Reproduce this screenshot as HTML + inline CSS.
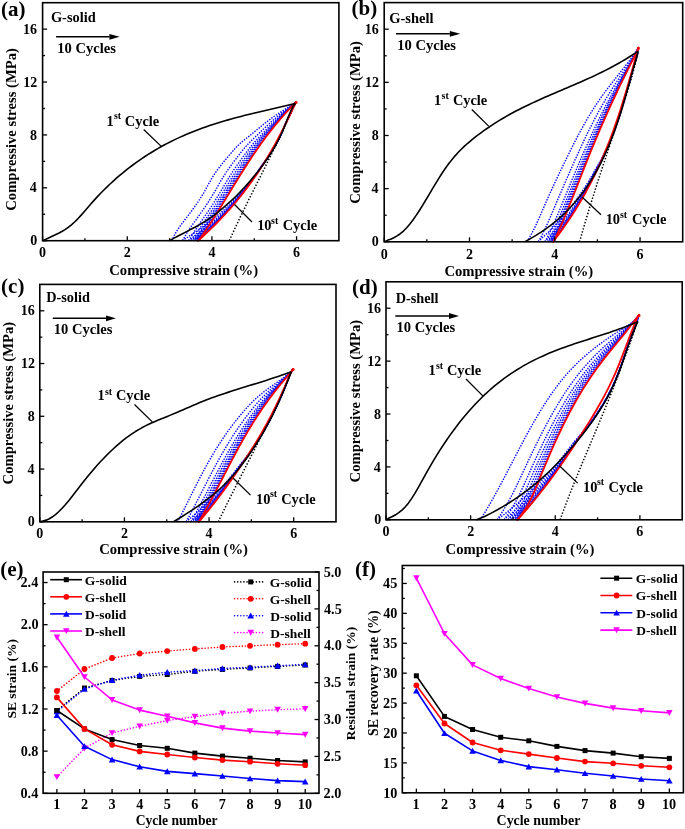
<!DOCTYPE html>
<html><head><meta charset="utf-8"><style>
html,body{margin:0;padding:0;background:#fff;width:685px;height:829px;overflow:hidden}
text{font-family:'Liberation Serif',serif;font-weight:bold;font-kerning:none}
</style></head><body>
<svg width="685" height="829" viewBox="0 0 685 829" style="position:absolute;left:0;top:0;will-change:transform">
<g style="font-family:'Liberation Serif',serif;font-weight:bold;font-kerning:none">
<path d="M172,240.7 L173.35,237.26 L175.11,233.81 L177.19,230.37 L179.52,226.93 L182.04,223.49 L184.66,220.04 L187.31,216.6 L189.93,213.16 L192.5,209.72 L195,206.27 L197.41,202.83 L199.71,199.39 L201.89,195.95 L203.93,192.5 L205.85,189.06 L207.72,185.62 L209.61,182.18 L211.57,178.73 L213.68,175.29 L215.99,171.85 L218.51,168.41 L221.19,164.97 L223.99,161.52 L226.85,158.08 L229.73,154.64 L232.66,151.19 L235.77,147.75 L239.23,144.31 L243.19,140.87 L247.49,137.42 L251.78,133.98 L255.97,130.54 L260.15,127.1 L264.42,123.66 L268.87,120.21 L273.6,116.77 L278.7,113.33 L284.11,109.88 L289.54,106.44 L294.62,103 L296,102" fill="none" stroke="#0000ff" stroke-width="1.4" stroke-dasharray="1.4 1.3" stroke-linejoin="round" />
<path d="M182.52,240.7 L184.44,237.26 L186.43,233.81 L188.61,230.37 L190.93,226.93 L193.34,223.49 L195.8,220.04 L198.27,216.6 L200.71,213.16 L203.11,209.72 L205.46,206.27 L207.75,202.83 L209.97,199.39 L212.12,195.95 L214.18,192.5 L216.17,189.06 L218.13,185.62 L220.11,182.18 L222.13,178.73 L224.25,175.29 L226.5,171.85 L228.88,168.41 L231.37,164.97 L233.94,161.52 L236.56,158.08 L239.22,154.64 L241.91,151.19 L244.73,147.75 L247.79,144.31 L251.16,140.87 L254.76,137.42 L258.37,133.98 L261.95,130.54 L265.56,127.1 L269.24,123.66 L273.07,120.21 L277.09,116.77 L281.37,113.33 L285.87,109.88 L290.42,106.44 L294.79,103 L296,102" fill="none" stroke="#0000ff" stroke-width="1.4" stroke-dasharray="1.4 1.3" stroke-linejoin="round" />
<path d="M188.57,240.7 L190.81,237.26 L192.94,233.81 L195.18,230.37 L197.49,226.93 L199.84,223.49 L202.21,220.04 L204.57,216.6 L206.91,213.16 L209.21,209.72 L211.47,206.27 L213.7,202.83 L215.87,199.39 L218,195.95 L220.07,192.5 L222.11,189.06 L224.12,185.62 L226.14,182.18 L228.2,178.73 L230.33,175.29 L232.54,171.85 L234.84,168.41 L237.22,164.97 L239.66,161.52 L242.15,158.08 L244.67,154.64 L247.23,151.19 L249.88,147.75 L252.7,144.31 L255.74,140.87 L258.93,137.42 L262.16,133.98 L265.4,130.54 L268.67,127.1 L272.02,123.66 L275.48,120.21 L279.1,116.77 L282.9,113.33 L286.88,109.88 L290.92,106.44 L294.88,103 L296,102" fill="none" stroke="#0000ff" stroke-width="1.4" stroke-dasharray="1.4 1.3" stroke-linejoin="round" />
<path d="M191.46,240.7 L193.86,237.26 L196.06,233.81 L198.32,230.37 L200.62,226.93 L202.95,223.49 L205.27,220.04 L207.58,216.6 L209.87,213.16 L212.13,209.72 L214.35,206.27 L216.54,202.83 L218.7,199.39 L220.81,195.95 L222.89,192.5 L224.94,189.06 L226.98,185.62 L229.03,182.18 L231.11,178.73 L233.23,175.29 L235.43,171.85 L237.69,168.41 L240.02,164.97 L242.4,161.52 L244.82,158.08 L247.27,154.64 L249.77,151.19 L252.35,147.75 L255.05,144.31 L257.93,140.87 L260.93,137.42 L263.98,133.98 L267.04,130.54 L270.16,127.1 L273.35,123.66 L276.64,120.21 L280.06,116.77 L283.64,113.33 L287.36,109.88 L291.16,106.44 L294.93,103 L296,102" fill="none" stroke="#0000ff" stroke-width="1.4" stroke-dasharray="1.4 1.3" stroke-linejoin="round" />
<path d="M193.57,240.7 L196.07,237.26 L198.32,233.81 L200.61,230.37 L202.91,226.93 L205.21,223.49 L207.5,220.04 L209.78,216.6 L212.03,213.16 L214.25,209.72 L216.44,206.27 L218.61,202.83 L220.75,199.39 L222.86,195.95 L224.94,192.5 L227.01,189.06 L229.06,185.62 L231.13,182.18 L233.22,178.73 L235.35,175.29 L237.53,171.85 L239.77,168.41 L242.06,164.97 L244.39,161.52 L246.76,158.08 L249.17,154.64 L251.62,151.19 L254.14,147.75 L256.76,144.31 L259.52,140.87 L262.38,137.42 L265.29,133.98 L268.24,130.54 L271.24,127.1 L274.31,123.66 L277.48,120.21 L280.76,116.77 L284.17,113.33 L287.72,109.88 L291.34,106.44 L294.96,103 L296,102" fill="none" stroke="#0000ff" stroke-width="1.4" stroke-dasharray="1.4 1.3" stroke-linejoin="round" />
<path d="M195.14,240.7 L197.74,237.26 L200.02,233.81 L202.32,230.37 L204.62,226.93 L206.9,223.49 L209.17,220.04 L211.42,216.6 L213.64,213.16 L215.84,209.72 L218.01,206.27 L220.16,202.83 L222.29,199.39 L224.39,195.95 L226.48,192.5 L228.55,189.06 L230.63,185.62 L232.71,182.18 L234.8,178.73 L236.93,175.29 L239.11,171.85 L241.32,168.41 L243.58,164.97 L245.88,161.52 L248.22,158.08 L250.59,154.64 L253.01,151.19 L255.49,147.75 L258.05,144.31 L260.72,140.87 L263.47,137.42 L266.28,133.98 L269.14,130.54 L272.05,127.1 L275.03,123.66 L278.11,120.21 L281.28,116.77 L284.58,113.33 L287.98,109.88 L291.47,106.44 L294.99,103 L296,102" fill="none" stroke="#0000ff" stroke-width="1.4" stroke-dasharray="1.4 1.3" stroke-linejoin="round" />
<path d="M196.46,240.7 L199.12,237.26 L201.43,233.81 L203.75,230.37 L206.04,226.93 L208.32,223.49 L210.57,220.04 L212.79,216.6 L214.99,213.16 L217.17,209.72 L219.32,206.27 L221.45,202.83 L223.57,199.39 L225.67,195.95 L227.76,192.5 L229.84,189.06 L231.93,185.62 L234.02,182.18 L236.12,178.73 L238.26,175.29 L240.42,171.85 L242.62,168.41 L244.85,164.97 L247.13,161.52 L249.43,158.08 L251.78,154.64 L254.16,151.19 L256.61,147.75 L259.12,144.31 L261.71,140.87 L264.38,137.42 L267.11,133.98 L269.89,130.54 L272.73,127.1 L275.64,123.66 L278.63,120.21 L281.72,116.77 L284.91,113.33 L288.2,109.88 L291.58,106.44 L295.01,103 L296,102" fill="none" stroke="#0000ff" stroke-width="1.4" stroke-dasharray="1.4 1.3" stroke-linejoin="round" />
<path d="M197.51,240.7 L200.23,237.26 L202.57,233.81 L204.89,230.37 L207.18,226.93 L209.45,223.49 L211.68,220.04 L213.89,216.6 L216.07,213.16 L218.23,209.72 L220.37,206.27 L222.49,202.83 L224.6,199.39 L226.7,195.95 L228.79,192.5 L230.88,189.06 L232.97,185.62 L235.07,182.18 L237.18,178.73 L239.31,175.29 L241.47,171.85 L243.66,168.41 L245.87,164.97 L248.12,161.52 L250.41,158.08 L252.73,154.64 L255.09,151.19 L257.5,147.75 L259.97,144.31 L262.51,140.87 L265.11,137.42 L267.77,133.98 L270.48,130.54 L273.27,127.1 L276.12,123.66 L279.05,120.21 L282.07,116.77 L285.18,113.33 L288.38,109.88 L291.66,106.44 L295.02,103 L296,102" fill="none" stroke="#0000ff" stroke-width="1.4" stroke-dasharray="1.4 1.3" stroke-linejoin="round" />
<path d="M182.32,240.7 L187.58,237.26 L192.88,233.81 L197.93,230.37 L202.76,226.93 L207.38,223.49 L211.79,220.04 L216.02,216.6 L220.06,213.16 L223.93,209.72 L227.63,206.27 L231.18,202.83 L234.58,199.39 L237.84,195.95 L240.97,192.5 L243.98,189.06 L246.87,185.62 L249.65,182.18 L252.33,178.73 L254.91,175.29 L257.4,171.85 L259.8,168.41 L262.27,164.97 L264.84,161.52 L267.29,158.08 L269.61,154.64 L271.82,151.19 L273.91,147.75 L275.89,144.31 L277.75,140.87 L279.5,137.42 L281.14,133.98 L282.67,130.54 L284.09,127.1 L285.52,123.66 L287.21,120.21 L288.88,116.77 L290.52,113.33 L292.14,109.88 L293.72,106.44 L295.49,103 L296,102" fill="none" stroke="#0000ff" stroke-width="1.4" stroke-dasharray="1.4 1.3" stroke-linejoin="round" />
<path d="M188.37,240.7 L192.98,237.26 L197.68,233.81 L202.19,230.37 L206.53,226.93 L210.7,223.49 L214.71,220.04 L218.56,216.6 L222.27,213.16 L225.85,209.72 L229.29,206.27 L232.6,202.83 L235.79,199.39 L238.87,195.95 L241.84,192.5 L244.71,189.06 L247.48,185.62 L250.15,182.18 L252.74,178.73 L255.24,175.29 L257.67,171.85 L260.01,168.41 L262.44,164.97 L264.97,161.52 L267.39,158.08 L269.69,154.64 L271.87,151.19 L273.95,147.75 L275.91,144.31 L277.77,140.87 L279.51,137.42 L281.15,133.98 L282.68,130.54 L284.09,127.1 L285.52,123.66 L287.21,120.21 L288.88,116.77 L290.52,113.33 L292.14,109.88 L293.72,106.44 L295.49,103 L296,102" fill="none" stroke="#0000ff" stroke-width="1.4" stroke-dasharray="1.4 1.3" stroke-linejoin="round" />
<path d="M191.26,240.7 L195.56,237.26 L199.98,233.81 L204.23,230.37 L208.33,226.93 L212.28,223.49 L216.1,220.04 L219.78,216.6 L223.33,213.16 L226.77,209.72 L230.08,206.27 L233.28,202.83 L236.37,199.39 L239.37,195.95 L242.26,192.5 L245.06,189.06 L247.77,185.62 L250.39,182.18 L252.94,178.73 L255.4,175.29 L257.8,171.85 L260.11,168.41 L262.52,164.97 L265.03,161.52 L267.43,158.08 L269.72,154.64 L271.9,151.19 L273.97,147.75 L275.93,144.31 L277.78,140.87 L279.52,137.42 L281.15,133.98 L282.68,130.54 L284.09,127.1 L285.52,123.66 L287.21,120.21 L288.88,116.77 L290.52,113.33 L292.14,109.88 L293.72,106.44 L295.49,103 L296,102" fill="none" stroke="#0000ff" stroke-width="1.4" stroke-dasharray="1.4 1.3" stroke-linejoin="round" />
<path d="M193.37,240.7 L197.44,237.26 L201.65,233.81 L205.71,230.37 L209.64,226.93 L213.44,223.49 L217.11,220.04 L220.67,216.6 L224.1,213.16 L227.43,209.72 L230.66,206.27 L233.78,202.83 L236.8,199.39 L239.72,195.95 L242.56,192.5 L245.31,189.06 L247.98,185.62 L250.57,182.18 L253.08,178.73 L255.52,175.29 L257.89,171.85 L260.18,168.41 L262.57,164.97 L265.07,161.52 L267.47,158.08 L269.75,154.64 L271.92,151.19 L273.98,147.75 L275.94,144.31 L277.78,140.87 L279.52,137.42 L281.15,133.98 L282.68,130.54 L284.09,127.1 L285.52,123.66 L287.21,120.21 L288.88,116.77 L290.52,113.33 L292.14,109.88 L293.72,106.44 L295.49,103 L296,102" fill="none" stroke="#0000ff" stroke-width="1.4" stroke-dasharray="1.4 1.3" stroke-linejoin="round" />
<path d="M194.94,240.7 L198.85,237.26 L202.9,233.81 L206.82,230.37 L210.62,226.93 L214.3,223.49 L217.87,220.04 L221.33,216.6 L224.68,213.16 L227.93,209.72 L231.09,206.27 L234.15,202.83 L237.11,199.39 L239.99,195.95 L242.79,192.5 L245.5,189.06 L248.14,185.62 L250.7,182.18 L253.19,178.73 L255.6,175.29 L257.96,171.85 L260.24,168.41 L262.62,164.97 L265.11,161.52 L267.49,158.08 L269.77,154.64 L271.93,151.19 L273.99,147.75 L275.94,144.31 L277.79,140.87 L279.53,137.42 L281.16,133.98 L282.68,130.54 L284.09,127.1 L285.52,123.66 L287.21,120.21 L288.88,116.77 L290.52,113.33 L292.14,109.88 L293.72,106.44 L295.49,103 L296,102" fill="none" stroke="#0000ff" stroke-width="1.4" stroke-dasharray="1.4 1.3" stroke-linejoin="round" />
<path d="M196.26,240.7 L200.02,237.26 L203.95,233.81 L207.75,230.37 L211.44,226.93 L215.02,223.49 L218.5,220.04 L221.88,216.6 L225.16,213.16 L228.35,209.72 L231.45,206.27 L234.46,202.83 L237.38,199.39 L240.22,195.95 L242.98,192.5 L245.66,189.06 L248.27,185.62 L250.81,182.18 L253.27,178.73 L255.68,175.29 L258.02,171.85 L260.29,168.41 L262.65,164.97 L265.14,161.52 L267.51,158.08 L269.78,154.64 L271.94,151.19 L274,147.75 L275.95,144.31 L277.79,140.87 L279.53,137.42 L281.16,133.98 L282.68,130.54 L284.09,127.1 L285.53,123.66 L287.21,120.21 L288.88,116.77 L290.52,113.33 L292.14,109.88 L293.72,106.44 L295.49,103 L296,102" fill="none" stroke="#0000ff" stroke-width="1.4" stroke-dasharray="1.4 1.3" stroke-linejoin="round" />
<path d="M197.31,240.7 L200.96,237.26 L204.78,233.81 L208.49,230.37 L212.09,226.93 L215.6,223.49 L219.01,220.04 L222.33,216.6 L225.55,213.16 L228.69,209.72 L231.74,206.27 L234.7,202.83 L237.59,199.39 L240.4,195.95 L243.13,192.5 L245.79,189.06 L248.37,185.62 L250.89,182.18 L253.35,178.73 L255.73,175.29 L258.06,171.85 L260.32,168.41 L262.68,164.97 L265.16,161.52 L267.53,158.08 L269.8,154.64 L271.95,151.19 L274.01,147.75 L275.95,144.31 L277.8,140.87 L279.53,137.42 L281.16,133.98 L282.68,130.54 L284.1,127.1 L285.53,123.66 L287.21,120.21 L288.88,116.77 L290.52,113.33 L292.14,109.88 L293.72,106.44 L295.49,103 L296,102" fill="none" stroke="#0000ff" stroke-width="1.4" stroke-dasharray="1.4 1.3" stroke-linejoin="round" />
<path d="M197.8,240.7 L201.39,237.26 L205.17,233.81 L208.83,230.37 L212.4,226.93 L215.87,223.49 L219.24,220.04 L222.53,216.6 L225.73,213.16 L228.84,209.72 L231.87,206.27 L234.82,202.83 L237.69,199.39 L240.48,195.95 L243.2,192.5 L245.85,189.06 L248.42,185.62 L250.93,182.18 L253.38,178.73 L255.76,175.29 L258.08,171.85 L260.34,168.41 L262.7,164.97 L265.17,161.52 L267.54,158.08 L269.8,154.64 L271.96,151.19 L274.01,147.75 L275.96,144.31 L277.8,140.87 L279.53,137.42 L281.16,133.98 L282.68,130.54 L284.1,127.1 L285.53,123.66 L287.21,120.21 L288.88,116.77 L290.52,113.33 L292.14,109.88 L293.72,106.44 L295.49,103 L296,102" fill="none" stroke="#0000ff" stroke-width="1.4" stroke-dasharray="1.4 1.3" stroke-linejoin="round" />
<path d="M229.4,240.7 L230.35,238.37 L231.4,236.05 L232.47,233.72 L233.54,231.39 L234.61,229.06 L235.7,226.74 L236.8,224.41 L237.9,222.08 L239,219.76 L240.12,217.43 L241.24,215.1 L242.37,212.77 L243.5,210.45 L244.64,208.12 L245.78,205.79 L246.92,203.47 L248.07,201.14 L249.23,198.81 L250.38,196.48 L251.54,194.16 L252.7,191.83 L253.87,189.5 L255.03,187.18 L256.2,184.85 L257.36,182.52 L258.53,180.19 L259.7,177.87 L260.87,175.54 L262.03,173.21 L263.2,170.89 L264.36,168.56 L265.52,166.23 L266.68,163.91 L267.84,161.58 L269,159.25 L270.15,156.92 L271.3,154.6 L272.44,152.27 L273.58,149.94 L274.71,147.62 L275.84,145.29 L276.97,142.96 L278.08,140.63 L279.19,138.31 L280.3,135.98 L281.4,133.65 L282.49,131.33 L283.57,129 L284.64,126.67 L285.71,124.34 L286.76,122.02 L287.81,119.69 L288.85,117.36 L289.87,115.04 L290.89,112.71 L291.9,110.38 L292.89,108.05 L293.87,105.73 L295.3,103.4" fill="none" stroke="#000" stroke-width="1.5" stroke-dasharray="1.4 1.8" stroke-linejoin="round" />
<path d="M198.3,240.7 L200.28,238.35 L201.91,236 L203.53,233.65 L205.13,231.3 L206.7,228.95 L208.26,226.59 L209.8,224.24 L211.33,221.89 L212.84,219.54 L214.34,217.19 L215.82,214.84 L217.3,212.49 L218.76,210.14 L220.22,207.79 L221.67,205.44 L223.11,203.09 L224.55,200.74 L225.98,198.38 L227.41,196.03 L228.84,193.68 L230.27,191.33 L231.7,188.98 L233.13,186.63 L234.57,184.28 L236.01,181.93 L237.45,179.58 L238.91,177.23 L240.37,174.88 L241.83,172.53 L243.31,170.17 L244.81,167.82 L246.31,165.47 L247.83,163.12 L249.36,160.77 L250.91,158.42 L252.47,156.07 L254.06,153.72 L255.66,151.37 L257.29,149.02 L258.94,146.67 L260.61,144.32 L262.3,141.96 L264.03,139.61 L265.77,137.26 L267.55,134.91 L269.36,132.56 L271.19,130.21 L273.06,127.86 L274.96,125.51 L276.89,123.16 L278.86,120.81 L280.87,118.46 L282.91,116.11 L284.99,113.75 L287.12,111.4 L289.28,109.05 L291.48,106.7 L293.73,104.35 L296,102" fill="none" stroke="#ff0000" stroke-width="1.8" stroke-linejoin="round" stroke-linecap="round"/>
<path d="M198.3,240.7 L200.67,238.35 L203.25,236 L205.79,233.65 L208.28,231.3 L210.72,228.95 L213.12,226.59 L215.48,224.24 L217.8,221.89 L220.07,219.54 L222.3,217.19 L224.5,214.84 L226.65,212.49 L228.76,210.14 L230.84,207.79 L232.87,205.44 L234.88,203.09 L236.84,200.74 L238.77,198.38 L240.66,196.03 L242.52,193.68 L244.35,191.33 L246.14,188.98 L247.91,186.63 L249.64,184.28 L251.34,181.93 L253.01,179.58 L254.65,177.23 L256.26,174.88 L257.85,172.53 L259.41,170.17 L260.94,167.82 L262.44,165.47 L263.92,163.12 L265.38,160.77 L266.81,158.42 L268.22,156.07 L269.61,153.72 L270.98,151.37 L272.33,149.02 L273.65,146.67 L274.96,144.32 L276.25,141.96 L277.52,139.61 L278.77,137.26 L280.01,134.91 L281.23,132.56 L282.44,130.21 L283.63,127.86 L284.81,125.51 L285.97,123.16 L287.12,120.81 L288.26,118.46 L289.4,116.11 L290.52,113.75 L291.63,111.4 L292.73,109.05 L293.82,106.7 L294.91,104.35 L296.3,102" fill="none" stroke="#ff0000" stroke-width="1.8" stroke-linejoin="round" stroke-linecap="round"/>
<circle cx="296" cy="102.6" r="1.5" fill="#ff0000"/>
<path d="M169.5,240.7 L173.64,238.37 L178.04,236.05 L182.52,233.72 L187.02,231.39 L191.48,229.06 L195.83,226.74 L200,224.41 L203.93,222.08 L207.58,219.76 L210.97,217.43 L214.15,215.1 L217.15,212.77 L220.01,210.45 L222.77,208.12 L225.47,205.79 L228.14,203.47 L230.76,201.14 L233.31,198.81 L235.75,196.48 L238.07,194.16 L240.3,191.83 L242.46,189.5 L244.59,187.18 L246.68,184.85 L248.74,182.52 L250.75,180.19 L252.73,177.87 L254.67,175.54 L256.56,173.21 L258.41,170.89 L260.21,168.56 L261.97,166.23 L263.68,163.91 L265.34,161.58 L266.95,159.25 L268.51,156.92 L270.03,154.6 L271.5,152.27 L272.92,149.94 L274.29,147.62 L275.62,145.29 L276.89,142.96 L278.12,140.63 L279.3,138.31 L280.43,135.98 L281.51,133.65 L282.55,131.33 L283.53,129 L284.47,126.67 L285.38,124.34 L286.27,122.02 L287.16,119.69 L288.07,117.36 L289.01,115.04 L290,112.71 L291.06,110.38 L292.2,108.05 L293.44,105.73 L295.3,103.4" fill="none" stroke="#000" stroke-width="1.6" stroke-linejoin="round" />
<path d="M42.6,240.7 L45.8,239.3 L49,237.8 L52.2,236.33 L55.39,234.84 L58.59,233.27 L61.79,231.55 L64.99,229.62 L68.19,227.41 L71.39,224.87 L74.59,221.99 L77.79,218.82 L80.98,215.38 L84.18,211.73 L87.38,207.98 L90.58,204.26 L93.78,200.65 L96.98,197.15 L100.18,193.76 L103.38,190.49 L106.57,187.33 L109.77,184.27 L112.97,181.31 L116.17,178.46 L119.37,175.7 L122.57,173.02 L125.77,170.43 L128.97,167.93 L132.16,165.5 L135.36,163.15 L138.56,160.87 L141.76,158.66 L144.96,156.52 L148.16,154.45 L151.36,152.45 L154.56,150.51 L157.75,148.63 L160.95,146.82 L164.15,145.06 L167.35,143.37 L170.55,141.72 L173.75,140.14 L176.95,138.61 L180.15,137.12 L183.34,135.69 L186.54,134.31 L189.74,132.97 L192.94,131.67 L196.14,130.42 L199.34,129.21 L202.54,128.04 L205.74,126.9 L208.93,125.8 L212.13,124.74 L215.33,123.7 L218.53,122.7 L221.73,121.73 L224.93,120.78 L228.13,119.86 L231.33,118.97 L234.52,118.09 L237.72,117.24 L240.92,116.4 L244.12,115.58 L247.32,114.78 L250.52,113.99 L253.72,113.21 L256.92,112.44 L260.11,111.68 L263.31,110.93 L266.51,110.18 L269.71,109.44 L272.91,108.69 L276.11,107.95 L279.31,107.2 L282.51,106.45 L285.7,105.7 L288.9,104.94 L292.1,104.17 L295.3,103.4" fill="none" stroke="#000" stroke-width="1.6" stroke-linejoin="round" />
<rect x="42.6" y="2.7" width="296.3" height="238" fill="none" stroke="#000" stroke-width="1.6"/>
<line x1="42.6" y1="240.7" x2="42.6" y2="236.2" stroke="#000" stroke-width="1.3" />
<line x1="84.93" y1="240.7" x2="84.93" y2="238.2" stroke="#000" stroke-width="1.3" />
<line x1="127.26" y1="240.7" x2="127.26" y2="236.2" stroke="#000" stroke-width="1.3" />
<line x1="169.59" y1="240.7" x2="169.59" y2="238.2" stroke="#000" stroke-width="1.3" />
<line x1="211.91" y1="240.7" x2="211.91" y2="236.2" stroke="#000" stroke-width="1.3" />
<line x1="254.24" y1="240.7" x2="254.24" y2="238.2" stroke="#000" stroke-width="1.3" />
<line x1="296.57" y1="240.7" x2="296.57" y2="236.2" stroke="#000" stroke-width="1.3" />
<line x1="42.6" y1="240.7" x2="47.1" y2="240.7" stroke="#000" stroke-width="1.3" />
<line x1="42.6" y1="214.26" x2="45.1" y2="214.26" stroke="#000" stroke-width="1.3" />
<line x1="42.6" y1="187.81" x2="47.1" y2="187.81" stroke="#000" stroke-width="1.3" />
<line x1="42.6" y1="161.37" x2="45.1" y2="161.37" stroke="#000" stroke-width="1.3" />
<line x1="42.6" y1="134.92" x2="47.1" y2="134.92" stroke="#000" stroke-width="1.3" />
<line x1="42.6" y1="108.48" x2="45.1" y2="108.48" stroke="#000" stroke-width="1.3" />
<line x1="42.6" y1="82.03" x2="47.1" y2="82.03" stroke="#000" stroke-width="1.3" />
<line x1="42.6" y1="55.59" x2="45.1" y2="55.59" stroke="#000" stroke-width="1.3" />
<line x1="42.6" y1="29.14" x2="47.1" y2="29.14" stroke="#000" stroke-width="1.3" />
<text x="39.1" y="257.31" font-size="14" fill="#000">0</text>
<text x="123.76" y="257.27" font-size="14" fill="#000">2</text>
<text x="208.45" y="257.21" font-size="14" fill="#000">4</text>
<text x="293.04" y="257.27" font-size="14" fill="#000">6</text>
<text x="30.13" y="245.33" font-size="14" fill="#000">0</text>
<text x="29.86" y="192.45" font-size="14" fill="#000">4</text>
<text x="30.06" y="139.56" font-size="14" fill="#000">8</text>
<text x="23.2" y="86.67" font-size="14" fill="#000">12</text>
<text x="23.01" y="33.78" font-size="14" fill="#000">16</text>
<text x="109.28" y="274.8" font-size="14.65" fill="#000">Compressive strain (%)</text>
<text transform="translate(16.3,210.72) rotate(-90)" x="0" y="0" font-size="14.65">Compressive stress (MPa)</text>
<text x="1.08" y="15.57" font-size="21" fill="#000">(a)</text>
<text x="50.9" y="22.1" font-size="14.4" fill="#000">G-solid</text>
<line x1="56.1" y1="36.8" x2="109.4" y2="36.8" stroke="#000" stroke-width="1.6" />
<path d="M109.4,33.9 L119.7,36.8 L109.4,39.7 Z" fill="#000"/>
<text x="57.23" y="53" font-size="14.55" fill="#000">10 Cycles</text>
<text x="106.55" y="126" font-size="14.4" fill="#000">1</text>
<text x="114" y="119.35" font-size="9.9" fill="#000">st</text>
<text x="124.8" y="126" font-size="14.4" fill="#000">Cycle</text>
<line x1="143.7" y1="129.5" x2="161.3" y2="146.4" stroke="#000" stroke-width="1.3" />
<text x="257.15" y="230.3" font-size="14.4" fill="#000">10</text>
<text x="271.1" y="223.7" font-size="9.9" fill="#000">st</text>
<text x="282.7" y="230.3" font-size="14.4" fill="#000">Cycle</text>
<line x1="252" y1="222" x2="234.5" y2="204.5" stroke="#000" stroke-width="1.3" />
<path d="M527,241.8 L529.84,236.97 L532.43,232.15 L534.84,227.32 L537.12,222.49 L539.29,217.66 L541.41,212.84 L543.49,208.01 L545.59,203.18 L547.72,198.35 L549.89,193.53 L552.09,188.7 L554.32,183.87 L556.58,179.04 L558.87,174.22 L561.18,169.39 L563.52,164.56 L565.87,159.73 L568.25,154.91 L570.64,150.08 L573.06,145.25 L575.52,140.42 L578.03,135.59 L580.61,130.77 L583.25,125.94 L585.99,121.11 L588.82,116.28 L591.76,111.46 L594.82,106.63 L598.02,101.8 L601.36,96.97 L604.86,92.15 L608.49,87.32 L612.23,82.49 L616.04,77.66 L619.88,72.84 L623.71,68.01 L627.51,63.18 L631.21,58.35 L634.79,53.53 L637.87,48.7 L638.4,47.7" fill="none" stroke="#0000ff" stroke-width="1.4" stroke-dasharray="1.4 1.3" stroke-linejoin="round" />
<path d="M538.31,241.8 L541.08,236.97 L543.48,232.15 L545.78,227.32 L547.97,222.49 L550.09,217.66 L552.16,212.84 L554.2,208.01 L556.23,203.18 L558.27,198.35 L560.33,193.53 L562.4,188.7 L564.48,183.87 L566.58,179.04 L568.7,174.22 L570.83,169.39 L572.98,164.56 L575.14,159.73 L577.33,154.91 L579.54,150.08 L581.77,145.25 L584.04,140.42 L586.35,135.59 L588.7,130.77 L591.11,125.94 L593.58,121.11 L596.11,116.28 L598.72,111.46 L601.41,106.63 L604.19,101.8 L607.06,96.97 L610.03,92.15 L613.09,87.32 L616.22,82.49 L619.4,77.66 L622.6,72.84 L625.82,68.01 L629.02,63.18 L632.19,58.35 L635.29,53.53 L637.96,48.7 L638.4,47.7" fill="none" stroke="#0000ff" stroke-width="1.4" stroke-dasharray="1.4 1.3" stroke-linejoin="round" />
<path d="M544.88,241.8 L547.62,236.97 L549.91,232.15 L552.13,227.32 L554.28,222.49 L556.37,217.66 L558.41,212.84 L560.42,208.01 L562.42,203.18 L564.41,198.35 L566.4,193.53 L568.39,188.7 L570.39,183.87 L572.4,179.04 L574.41,174.22 L576.44,169.39 L578.48,164.56 L580.53,159.73 L582.61,154.91 L584.71,150.08 L586.83,145.25 L588.99,140.42 L591.18,135.59 L593.41,130.77 L595.68,125.94 L597.99,121.11 L600.36,116.28 L602.77,111.46 L605.24,106.63 L607.78,101.8 L610.37,96.97 L613.03,92.15 L615.76,87.32 L618.53,82.49 L621.35,77.66 L624.19,72.84 L627.05,68.01 L629.91,63.18 L632.75,58.35 L635.59,53.53 L638.01,48.7 L638.4,47.7" fill="none" stroke="#0000ff" stroke-width="1.4" stroke-dasharray="1.4 1.3" stroke-linejoin="round" />
<path d="M547.78,241.8 L550.49,236.97 L552.74,232.15 L554.93,227.32 L557.06,222.49 L559.13,217.66 L561.16,212.84 L563.16,208.01 L565.14,203.18 L567.11,198.35 L569.07,193.53 L571.03,188.7 L572.99,183.87 L574.96,179.04 L576.92,174.22 L578.9,169.39 L580.9,164.56 L582.91,159.73 L584.93,154.91 L586.98,150.08 L589.06,145.25 L591.17,140.42 L593.31,135.59 L595.48,130.77 L597.69,125.94 L599.93,121.11 L602.22,116.28 L604.55,111.46 L606.93,106.63 L609.35,101.8 L611.83,96.97 L614.36,92.15 L616.94,87.32 L619.55,82.49 L622.21,77.66 L624.89,72.84 L627.58,68.01 L630.29,63.18 L633,58.35 L635.72,53.53 L638.03,48.7 L638.4,47.7" fill="none" stroke="#0000ff" stroke-width="1.4" stroke-dasharray="1.4 1.3" stroke-linejoin="round" />
<path d="M549.62,241.8 L552.32,236.97 L554.54,232.15 L556.71,227.32 L558.82,222.49 L560.89,217.66 L562.91,212.84 L564.9,208.01 L566.87,203.18 L568.83,198.35 L570.77,193.53 L572.71,188.7 L574.65,183.87 L576.58,179.04 L578.52,174.22 L580.47,169.39 L582.44,164.56 L584.41,159.73 L586.41,154.91 L588.43,150.08 L590.48,145.25 L592.56,140.42 L594.66,135.59 L596.8,130.77 L598.97,125.94 L601.17,121.11 L603.41,116.28 L605.69,111.46 L608,106.63 L610.36,101.8 L612.76,96.97 L615.2,92.15 L617.68,87.32 L620.2,82.49 L622.75,77.66 L625.33,72.84 L627.93,68.01 L630.54,63.18 L633.16,58.35 L635.8,53.53 L638.05,48.7 L638.4,47.7" fill="none" stroke="#0000ff" stroke-width="1.4" stroke-dasharray="1.4 1.3" stroke-linejoin="round" />
<path d="M550.93,241.8 L553.63,236.97 L555.83,232.15 L557.98,227.32 L560.09,222.49 L562.14,217.66 L564.16,212.84 L566.15,208.01 L568.11,203.18 L570.06,198.35 L571.99,193.53 L573.91,188.7 L575.83,183.87 L577.75,179.04 L579.67,174.22 L581.6,169.39 L583.54,164.56 L585.49,159.73 L587.47,154.91 L589.47,150.08 L591.49,145.25 L593.55,140.42 L595.63,135.59 L597.74,130.77 L599.88,125.94 L602.05,121.11 L604.26,116.28 L606.5,111.46 L608.77,106.63 L611.08,101.8 L613.42,96.97 L615.8,92.15 L618.22,87.32 L620.67,82.49 L623.14,77.66 L625.65,72.84 L628.17,68.01 L630.72,63.18 L633.28,58.35 L635.86,53.53 L638.06,48.7 L638.4,47.7" fill="none" stroke="#0000ff" stroke-width="1.4" stroke-dasharray="1.4 1.3" stroke-linejoin="round" />
<path d="M551.98,241.8 L554.68,236.97 L556.85,232.15 L559,227.32 L561.1,222.49 L563.15,217.66 L565.16,212.84 L567.14,208.01 L569.1,203.18 L571.04,198.35 L572.96,193.53 L574.87,188.7 L576.77,183.87 L578.68,179.04 L580.58,174.22 L582.49,169.39 L584.42,164.56 L586.35,159.73 L588.31,154.91 L590.29,150.08 L592.3,145.25 L594.34,140.42 L596.4,135.59 L598.49,130.77 L600.61,125.94 L602.76,121.11 L604.94,116.28 L607.14,111.46 L609.38,106.63 L611.65,101.8 L613.95,96.97 L616.28,92.15 L618.65,87.32 L621.04,82.49 L623.46,77.66 L625.9,72.84 L628.37,68.01 L630.86,63.18 L633.37,58.35 L635.9,53.53 L638.07,48.7 L638.4,47.7" fill="none" stroke="#0000ff" stroke-width="1.4" stroke-dasharray="1.4 1.3" stroke-linejoin="round" />
<path d="M552.77,241.8 L555.46,236.97 L557.63,232.15 L559.76,227.32 L561.85,222.49 L563.9,217.66 L565.91,212.84 L567.89,208.01 L569.84,203.18 L571.77,198.35 L573.69,193.53 L575.59,188.7 L577.48,183.87 L579.37,179.04 L581.27,174.22 L583.17,169.39 L585.08,164.56 L587,159.73 L588.95,154.91 L590.92,150.08 L592.91,145.25 L594.93,140.42 L596.98,135.59 L599.06,130.77 L601.16,125.94 L603.29,121.11 L605.45,116.28 L607.63,111.46 L609.84,106.63 L612.08,101.8 L614.35,96.97 L616.64,92.15 L618.97,87.32 L621.32,82.49 L623.69,77.66 L626.09,72.84 L628.52,68.01 L630.96,63.18 L633.44,58.35 L635.94,53.53 L638.07,48.7 L638.4,47.7" fill="none" stroke="#0000ff" stroke-width="1.4" stroke-dasharray="1.4 1.3" stroke-linejoin="round" />
<path d="M538.11,241.8 L543.16,236.97 L548.23,232.15 L553.05,227.32 L557.62,222.49 L561.97,217.66 L566.11,212.84 L570.04,208.01 L573.78,203.18 L577.34,198.35 L580.72,193.53 L583.94,188.7 L587,183.87 L589.92,179.04 L592.7,174.22 L595.42,169.39 L598.26,164.56 L600.94,159.73 L603.47,154.91 L605.84,150.08 L608.08,145.25 L610.19,140.42 L612.18,135.59 L614.06,130.77 L615.86,125.94 L617.56,121.11 L619.19,116.28 L620.75,111.46 L622.25,106.63 L623.71,101.8 L625.13,96.97 L626.51,92.15 L627.88,87.32 L629.23,82.49 L630.58,77.66 L631.93,72.84 L633.29,68.01 L634.67,63.18 L636.07,58.35 L637.42,53.53 L637.88,48.7 L638.4,47.7" fill="none" stroke="#0000ff" stroke-width="1.4" stroke-dasharray="1.4 1.3" stroke-linejoin="round" />
<path d="M544.68,241.8 L549.03,236.97 L553.45,232.15 L557.67,227.32 L561.71,222.49 L565.58,217.66 L569.27,212.84 L572.81,208.01 L576.19,203.18 L579.43,198.35 L582.52,193.53 L585.49,188.7 L588.32,183.87 L591.04,179.04 L593.65,174.22 L596.21,169.39 L598.92,164.56 L601.49,159.73 L603.91,154.91 L606.2,150.08 L608.37,145.25 L610.42,140.42 L612.36,135.59 L614.2,130.77 L615.96,125.94 L617.64,121.11 L619.25,116.28 L620.79,111.46 L622.28,106.63 L623.73,101.8 L625.14,96.97 L626.52,92.15 L627.88,87.32 L629.23,82.49 L630.58,77.66 L631.93,72.84 L633.29,68.01 L634.67,63.18 L636.07,58.35 L637.42,53.53 L637.88,48.7 L638.4,47.7" fill="none" stroke="#0000ff" stroke-width="1.4" stroke-dasharray="1.4 1.3" stroke-linejoin="round" />
<path d="M547.58,241.8 L551.61,236.97 L555.75,232.15 L559.71,227.32 L563.51,222.49 L567.16,217.66 L570.66,212.84 L574.02,208.01 L577.25,203.18 L580.34,198.35 L583.31,193.53 L586.17,188.7 L588.91,183.87 L591.54,179.04 L594.06,174.22 L596.56,169.39 L599.21,164.56 L601.73,159.73 L604.11,154.91 L606.36,150.08 L608.5,145.25 L610.52,140.42 L612.44,135.59 L614.27,130.77 L616.01,125.94 L617.67,121.11 L619.27,116.28 L620.81,111.46 L622.3,106.63 L623.74,101.8 L625.15,96.97 L626.53,92.15 L627.89,87.32 L629.23,82.49 L630.58,77.66 L631.93,72.84 L633.29,68.01 L634.67,63.18 L636.07,58.35 L637.42,53.53 L637.88,48.7 L638.4,47.7" fill="none" stroke="#0000ff" stroke-width="1.4" stroke-dasharray="1.4 1.3" stroke-linejoin="round" />
<path d="M549.42,241.8 L553.25,236.97 L557.21,232.15 L561.01,227.32 L564.66,222.49 L568.17,217.66 L571.55,212.84 L574.8,208.01 L577.92,203.18 L580.93,198.35 L583.82,193.53 L586.6,188.7 L589.28,183.87 L591.85,179.04 L594.33,174.22 L596.78,169.39 L599.39,164.56 L601.88,159.73 L604.23,154.91 L606.46,150.08 L608.58,145.25 L610.58,140.42 L612.49,135.59 L614.31,130.77 L616.04,125.94 L617.7,121.11 L619.29,116.28 L620.82,111.46 L622.3,106.63 L623.74,101.8 L625.15,96.97 L626.53,92.15 L627.89,87.32 L629.23,82.49 L630.58,77.66 L631.93,72.84 L633.29,68.01 L634.67,63.18 L636.07,58.35 L637.42,53.53 L637.88,48.7 L638.4,47.7" fill="none" stroke="#0000ff" stroke-width="1.4" stroke-dasharray="1.4 1.3" stroke-linejoin="round" />
<path d="M550.73,241.8 L554.43,236.97 L558.26,232.15 L561.93,227.32 L565.48,222.49 L568.89,217.66 L572.18,212.84 L575.35,208.01 L578.4,203.18 L581.35,198.35 L584.18,193.53 L586.91,188.7 L589.54,183.87 L592.07,179.04 L594.52,174.22 L596.94,169.39 L599.52,164.56 L601.99,159.73 L604.32,154.91 L606.54,150.08 L608.63,145.25 L610.63,140.42 L612.53,135.59 L614.33,130.77 L616.06,125.94 L617.71,121.11 L619.3,116.28 L620.83,111.46 L622.31,106.63 L623.75,101.8 L625.15,96.97 L626.53,92.15 L627.89,87.32 L629.23,82.49 L630.58,77.66 L631.93,72.84 L633.29,68.01 L634.67,63.18 L636.07,58.35 L637.42,53.53 L637.88,48.7 L638.4,47.7" fill="none" stroke="#0000ff" stroke-width="1.4" stroke-dasharray="1.4 1.3" stroke-linejoin="round" />
<path d="M551.78,241.8 L555.37,236.97 L559.09,232.15 L562.67,227.32 L566.13,222.49 L569.47,217.66 L572.69,212.84 L575.79,208.01 L578.79,203.18 L581.68,198.35 L584.47,193.53 L587.16,188.7 L589.75,183.87 L592.25,179.04 L594.67,174.22 L597.07,169.39 L599.63,164.56 L602.08,159.73 L604.39,154.91 L606.59,150.08 L608.68,145.25 L610.67,140.42 L612.55,135.59 L614.36,130.77 L616.08,125.94 L617.73,121.11 L619.31,116.28 L620.84,111.46 L622.31,106.63 L623.75,101.8 L625.15,96.97 L626.53,92.15 L627.89,87.32 L629.23,82.49 L630.58,77.66 L631.93,72.84 L633.29,68.01 L634.67,63.18 L636.07,58.35 L637.42,53.53 L637.88,48.7 L638.4,47.7" fill="none" stroke="#0000ff" stroke-width="1.4" stroke-dasharray="1.4 1.3" stroke-linejoin="round" />
<path d="M552.57,241.8 L556.07,236.97 L559.72,232.15 L563.23,227.32 L566.62,222.49 L569.9,217.66 L573.07,212.84 L576.13,208.01 L579.08,203.18 L581.93,198.35 L584.68,193.53 L587.34,188.7 L589.91,183.87 L592.39,179.04 L594.78,174.22 L597.16,169.39 L599.71,164.56 L602.14,159.73 L604.45,154.91 L606.64,150.08 L608.72,145.25 L610.69,140.42 L612.58,135.59 L614.37,130.77 L616.09,125.94 L617.73,121.11 L619.32,116.28 L620.84,111.46 L622.32,106.63 L623.75,101.8 L625.16,96.97 L626.53,92.15 L627.89,87.32 L629.24,82.49 L630.58,77.66 L631.93,72.84 L633.29,68.01 L634.67,63.18 L636.07,58.35 L637.42,53.53 L637.88,48.7 L638.4,47.7" fill="none" stroke="#0000ff" stroke-width="1.4" stroke-dasharray="1.4 1.3" stroke-linejoin="round" />
<path d="M552.8,241.8 L556.27,236.97 L559.9,232.15 L563.39,227.32 L566.76,222.49 L570.03,217.66 L573.18,212.84 L576.22,208.01 L579.16,203.18 L582,198.35 L584.75,193.53 L587.4,188.7 L589.95,183.87 L592.43,179.04 L594.81,174.22 L597.19,169.39 L599.73,164.56 L602.16,159.73 L604.46,154.91 L606.65,150.08 L608.73,145.25 L610.7,140.42 L612.58,135.59 L614.38,130.77 L616.09,125.94 L617.74,121.11 L619.32,116.28 L620.84,111.46 L622.32,106.63 L623.75,101.8 L625.16,96.97 L626.53,92.15 L627.89,87.32 L629.24,82.49 L630.58,77.66 L631.93,72.84 L633.29,68.01 L634.67,63.18 L636.07,58.35 L637.42,53.53 L637.88,48.7 L638.4,47.7" fill="none" stroke="#0000ff" stroke-width="1.4" stroke-dasharray="1.4 1.3" stroke-linejoin="round" />
<path d="M579.5,241.8 L580.5,238.57 L581.41,235.34 L582.33,232.11 L583.26,228.88 L584.21,225.66 L585.16,222.43 L586.11,219.2 L587.08,215.97 L588.06,212.74 L589.04,209.51 L590.03,206.28 L591.03,203.05 L592.03,199.83 L593.04,196.6 L594.06,193.37 L595.08,190.14 L596.11,186.91 L597.14,183.68 L598.19,180.45 L599.23,177.22 L600.28,173.99 L601.34,170.77 L602.4,167.54 L603.46,164.31 L604.53,161.08 L605.6,157.85 L606.67,154.62 L607.75,151.39 L608.83,148.16 L609.91,144.94 L611,141.71 L612.09,138.48 L613.17,135.25 L614.26,132.02 L615.35,128.79 L616.43,125.56 L617.51,122.33 L618.59,119.11 L619.66,115.88 L620.72,112.65 L621.78,109.42 L622.83,106.19 L623.86,102.96 L624.89,99.73 L625.91,96.5 L626.91,93.27 L627.9,90.05 L628.87,86.82 L629.83,83.59 L630.77,80.36 L631.69,77.13 L632.59,73.9 L633.47,70.67 L634.33,67.44 L635.17,64.22 L635.98,60.99 L636.77,57.76 L637.54,54.53 L638,51.3" fill="none" stroke="#000" stroke-width="1.5" stroke-dasharray="1.4 1.8" stroke-linejoin="round" />
<path d="M553.3,241.8 L555.25,238.51 L556.76,235.22 L558.24,231.93 L559.69,228.64 L561.13,225.35 L562.54,222.06 L563.94,218.77 L565.32,215.48 L566.68,212.19 L568.02,208.9 L569.36,205.61 L570.68,202.32 L571.99,199.03 L573.3,195.74 L574.6,192.45 L575.89,189.16 L577.17,185.87 L578.46,182.58 L579.74,179.29 L581.03,176 L582.31,172.71 L583.6,169.42 L584.9,166.13 L586.2,162.84 L587.5,159.55 L588.82,156.26 L590.15,152.97 L591.49,149.68 L592.84,146.39 L594.21,143.11 L595.58,139.82 L596.97,136.53 L598.37,133.24 L599.79,129.95 L601.21,126.66 L602.65,123.37 L604.1,120.08 L605.56,116.79 L607.03,113.5 L608.52,110.21 L610.02,106.92 L611.53,103.63 L613.05,100.34 L614.58,97.05 L616.12,93.76 L617.68,90.47 L619.25,87.18 L620.83,83.89 L622.42,80.6 L624.02,77.31 L625.64,74.02 L627.26,70.73 L628.9,67.44 L630.55,64.15 L632.21,60.86 L633.88,57.57 L635.56,54.28 L637.26,50.99 L638.4,47.7" fill="none" stroke="#ff0000" stroke-width="1.8" stroke-linejoin="round" stroke-linecap="round"/>
<path d="M553.3,241.8 L555.59,238.51 L558.07,235.22 L560.49,231.93 L562.86,228.64 L565.18,225.35 L567.44,222.06 L569.66,218.77 L571.82,215.48 L573.93,212.19 L575.99,208.9 L578.01,205.61 L579.98,202.32 L581.91,199.03 L583.79,195.74 L585.62,192.45 L587.42,189.16 L589.17,185.87 L590.88,182.58 L592.55,179.29 L594.19,176 L595.78,172.71 L597.34,169.42 L598.86,166.13 L600.35,162.84 L601.81,159.55 L603.23,156.26 L604.62,152.97 L605.98,149.68 L607.31,146.39 L608.61,143.11 L609.88,139.82 L611.13,136.53 L612.35,133.24 L613.55,129.95 L614.72,126.66 L615.87,123.37 L617,120.08 L618.1,116.79 L619.19,113.5 L620.26,110.21 L621.31,106.92 L622.34,103.63 L623.36,100.34 L624.36,97.05 L625.35,93.76 L626.33,90.47 L627.29,87.18 L628.24,83.89 L629.19,80.6 L630.12,77.31 L631.04,74.02 L631.96,70.73 L632.88,67.44 L633.78,64.15 L634.69,60.86 L635.59,57.57 L636.48,54.28 L637.38,50.99 L638.4,47.7" fill="none" stroke="#ff0000" stroke-width="1.8" stroke-linejoin="round" stroke-linecap="round"/>
<circle cx="638.4" cy="48.3" r="1.5" fill="#ff0000"/>
<path d="M525,241.8 L530.45,238.57 L535.94,235.34 L541.07,232.11 L545.84,228.88 L550.27,225.66 L554.4,222.43 L558.24,219.2 L561.84,215.97 L565.22,212.74 L568.41,209.51 L571.45,206.28 L574.33,203.05 L577.07,199.83 L579.68,196.6 L582.16,193.37 L584.53,190.14 L586.78,186.91 L588.93,183.68 L590.99,180.45 L592.95,177.22 L594.84,173.99 L596.65,170.77 L598.4,167.54 L600.09,164.31 L601.72,161.08 L603.3,157.85 L604.81,154.62 L606.28,151.39 L607.7,148.16 L609.07,144.94 L610.4,141.71 L611.68,138.48 L612.92,135.25 L614.13,132.02 L615.29,128.79 L616.43,125.56 L617.53,122.33 L618.61,119.11 L619.65,115.88 L620.67,112.65 L621.67,109.42 L622.65,106.19 L623.61,102.96 L624.56,99.73 L625.49,96.5 L626.41,93.27 L627.32,90.05 L628.23,86.82 L629.13,83.59 L630.03,80.36 L630.93,77.13 L631.83,73.9 L632.73,70.67 L633.65,67.44 L634.57,64.22 L635.5,60.99 L636.45,57.76 L637.41,54.53 L638,51.3" fill="none" stroke="#000" stroke-width="1.6" stroke-linejoin="round" />
<path d="M384.2,241.8 L387.41,240.36 L390.63,239.16 L393.84,237.7 L397.05,235.92 L400.26,233.72 L403.48,231.02 L406.69,227.77 L409.9,223.98 L413.11,219.75 L416.33,215.13 L419.54,210.21 L422.75,205.06 L425.96,199.74 L429.18,194.34 L432.39,188.92 L435.6,183.55 L438.82,178.31 L442.03,173.26 L445.24,168.49 L448.45,164.04 L451.67,159.92 L454.88,156.1 L458.09,152.56 L461.3,149.26 L464.52,146.17 L467.73,143.28 L470.94,140.55 L474.15,137.95 L477.37,135.46 L480.58,133.05 L483.79,130.72 L487.01,128.47 L490.22,126.29 L493.43,124.18 L496.64,122.13 L499.86,120.15 L503.07,118.23 L506.28,116.36 L509.49,114.55 L512.71,112.8 L515.92,111.08 L519.13,109.42 L522.34,107.79 L525.56,106.21 L528.77,104.66 L531.98,103.14 L535.19,101.65 L538.41,100.19 L541.62,98.75 L544.83,97.33 L548.05,95.93 L551.26,94.54 L554.47,93.17 L557.68,91.8 L560.9,90.44 L564.11,89.08 L567.32,87.71 L570.53,86.35 L573.75,84.97 L576.96,83.59 L580.17,82.19 L583.38,80.77 L586.6,79.34 L589.81,77.88 L593.02,76.4 L596.24,74.88 L599.45,73.34 L602.66,71.76 L605.87,70.14 L609.09,68.48 L612.3,66.78 L615.51,65.02 L618.72,63.22 L621.94,61.37 L625.15,59.45 L628.36,57.48 L631.57,55.45 L634.79,53.35 L638,51.3" fill="none" stroke="#000" stroke-width="1.6" stroke-linejoin="round" />
<rect x="384.2" y="2.6" width="298.5" height="239.2" fill="none" stroke="#000" stroke-width="1.6"/>
<line x1="384.2" y1="241.8" x2="384.2" y2="237.3" stroke="#000" stroke-width="1.3" />
<line x1="426.84" y1="241.8" x2="426.84" y2="239.3" stroke="#000" stroke-width="1.3" />
<line x1="469.49" y1="241.8" x2="469.49" y2="237.3" stroke="#000" stroke-width="1.3" />
<line x1="512.13" y1="241.8" x2="512.13" y2="239.3" stroke="#000" stroke-width="1.3" />
<line x1="554.77" y1="241.8" x2="554.77" y2="237.3" stroke="#000" stroke-width="1.3" />
<line x1="597.41" y1="241.8" x2="597.41" y2="239.3" stroke="#000" stroke-width="1.3" />
<line x1="640.06" y1="241.8" x2="640.06" y2="237.3" stroke="#000" stroke-width="1.3" />
<line x1="384.2" y1="241.8" x2="388.7" y2="241.8" stroke="#000" stroke-width="1.3" />
<line x1="384.2" y1="215.22" x2="386.7" y2="215.22" stroke="#000" stroke-width="1.3" />
<line x1="384.2" y1="188.64" x2="388.7" y2="188.64" stroke="#000" stroke-width="1.3" />
<line x1="384.2" y1="162.07" x2="386.7" y2="162.07" stroke="#000" stroke-width="1.3" />
<line x1="384.2" y1="135.49" x2="388.7" y2="135.49" stroke="#000" stroke-width="1.3" />
<line x1="384.2" y1="108.91" x2="386.7" y2="108.91" stroke="#000" stroke-width="1.3" />
<line x1="384.2" y1="82.33" x2="388.7" y2="82.33" stroke="#000" stroke-width="1.3" />
<line x1="384.2" y1="55.76" x2="386.7" y2="55.76" stroke="#000" stroke-width="1.3" />
<line x1="384.2" y1="29.18" x2="388.7" y2="29.18" stroke="#000" stroke-width="1.3" />
<text x="380.7" y="258.61" font-size="14" fill="#000">0</text>
<text x="465.99" y="258.57" font-size="14" fill="#000">2</text>
<text x="551.31" y="258.51" font-size="14" fill="#000">4</text>
<text x="636.52" y="258.57" font-size="14" fill="#000">6</text>
<text x="371.83" y="246.43" font-size="14" fill="#000">0</text>
<text x="371.56" y="193.28" font-size="14" fill="#000">4</text>
<text x="371.76" y="140.12" font-size="14" fill="#000">8</text>
<text x="364.9" y="86.97" font-size="14" fill="#000">12</text>
<text x="364.71" y="33.81" font-size="14" fill="#000">16</text>
<text x="444.38" y="275.5" font-size="14.65" fill="#000">Compressive strain (%)</text>
<text transform="translate(359.8,203.72) rotate(-90)" x="0" y="0" font-size="14.65">Compressive stress (MPa)</text>
<text x="351.58" y="15.47" font-size="21" fill="#000">(b)</text>
<text x="389.19" y="23.1" font-size="14.5" fill="#000">G-shell</text>
<line x1="396.1" y1="33.8" x2="449.8" y2="33.8" stroke="#000" stroke-width="1.6" />
<path d="M449.8,30.9 L460.3,33.8 L449.8,36.7 Z" fill="#000"/>
<text x="397.23" y="49.7" font-size="14.55" fill="#000">10 Cycles</text>
<text x="434.05" y="104.9" font-size="14.4" fill="#000">1</text>
<text x="441.6" y="99.05" font-size="9.9" fill="#000">st</text>
<text x="452.9" y="104.9" font-size="14.4" fill="#000">Cycle</text>
<line x1="471.8" y1="109.5" x2="488.9" y2="126.4" stroke="#000" stroke-width="1.3" />
<text x="605.65" y="223.8" font-size="14.4" fill="#000">10</text>
<text x="620" y="217.5" font-size="9.9" fill="#000">st</text>
<text x="632" y="223.8" font-size="14.4" fill="#000">Cycle</text>
<line x1="601" y1="214.7" x2="582.3" y2="197.2" stroke="#000" stroke-width="1.3" />
<path d="M177.7,521.8 L179.67,518 L181.61,514.21 L183.52,510.41 L185.42,506.62 L187.31,502.82 L189.2,499.03 L191.09,495.23 L192.98,491.44 L194.89,487.64 L196.81,483.85 L198.75,480.05 L200.72,476.26 L202.72,472.46 L204.76,468.67 L206.84,464.88 L208.97,461.08 L211.15,457.28 L213.39,453.49 L215.69,449.69 L218.05,445.9 L220.49,442.1 L223.01,438.31 L225.61,434.51 L228.3,430.72 L231.09,426.92 L233.97,423.13 L236.96,419.33 L240.05,415.54 L243.26,411.75 L246.61,407.95 L250.17,404.15 L253.99,400.36 L258.15,396.56 L262.71,392.77 L267.71,388.98 L273.06,385.18 L278.48,381.38 L283.76,377.59 L288.6,373.8 L292.37,370 L293.1,369" fill="none" stroke="#0000ff" stroke-width="1.4" stroke-dasharray="1.4 1.3" stroke-linejoin="round" />
<path d="M186.18,521.8 L188.26,518 L190.28,514.21 L192.29,510.41 L194.26,506.62 L196.22,502.82 L198.17,499.03 L200.11,495.23 L202.05,491.44 L203.98,487.64 L205.92,483.85 L207.87,480.05 L209.84,476.26 L211.82,472.46 L213.83,468.67 L215.87,464.88 L217.94,461.08 L220.05,457.28 L222.21,453.49 L224.41,449.69 L226.66,445.9 L228.97,442.1 L231.34,438.31 L233.77,434.51 L236.28,430.72 L238.87,426.92 L241.53,423.13 L244.28,419.33 L247.12,415.54 L250.05,411.75 L253.09,407.95 L256.28,404.15 L259.67,400.36 L263.28,396.56 L267.17,392.77 L271.36,388.98 L275.79,385.18 L280.3,381.38 L284.76,377.59 L289,373.8 L292.44,370 L293.1,369" fill="none" stroke="#0000ff" stroke-width="1.4" stroke-dasharray="1.4 1.3" stroke-linejoin="round" />
<path d="M191.06,521.8 L193.19,518 L195.27,514.21 L197.32,510.41 L199.35,506.62 L201.35,502.82 L203.33,499.03 L205.3,495.23 L207.26,491.44 L209.21,487.64 L211.16,483.85 L213.12,480.05 L215.08,476.26 L217.06,472.46 L219.05,468.67 L221.06,464.88 L223.1,461.08 L225.17,457.28 L227.28,453.49 L229.42,449.69 L231.61,445.9 L233.84,442.1 L236.12,438.31 L238.47,434.51 L240.87,430.72 L243.34,426.92 L245.88,423.13 L248.49,419.33 L251.18,415.54 L253.95,411.75 L256.82,407.95 L259.8,404.15 L262.93,400.36 L266.24,396.56 L269.74,392.77 L273.46,388.98 L277.36,385.18 L281.35,381.38 L285.34,377.59 L289.23,373.8 L292.49,370 L293.1,369" fill="none" stroke="#0000ff" stroke-width="1.4" stroke-dasharray="1.4 1.3" stroke-linejoin="round" />
<path d="M193.39,521.8 L195.55,518 L197.66,514.21 L199.73,510.41 L201.78,506.62 L203.8,502.82 L205.8,499.03 L207.78,495.23 L209.75,491.44 L211.71,487.64 L213.67,483.85 L215.63,480.05 L217.59,476.26 L219.56,472.46 L221.55,468.67 L223.55,464.88 L225.57,461.08 L227.62,457.28 L229.7,453.49 L231.82,449.69 L233.97,445.9 L236.17,442.1 L238.41,438.31 L240.71,434.51 L243.06,430.72 L245.48,426.92 L247.96,423.13 L250.5,419.33 L253.12,415.54 L255.82,411.75 L258.6,407.95 L261.48,404.15 L264.5,400.36 L267.65,396.56 L270.97,392.77 L274.46,388.98 L278.11,385.18 L281.85,381.38 L285.61,377.59 L289.34,373.8 L292.51,370 L293.1,369" fill="none" stroke="#0000ff" stroke-width="1.4" stroke-dasharray="1.4 1.3" stroke-linejoin="round" />
<path d="M195.08,521.8 L197.27,518 L199.4,514.21 L201.49,510.41 L203.55,506.62 L205.58,502.82 L207.59,499.03 L209.59,495.23 L211.56,491.44 L213.53,487.64 L215.49,483.85 L217.45,480.05 L219.41,476.26 L221.38,472.46 L223.36,468.67 L225.35,464.88 L227.37,461.08 L229.4,457.28 L231.47,453.49 L233.56,449.69 L235.69,445.9 L237.86,442.1 L240.08,438.31 L242.34,434.51 L244.66,430.72 L247.03,426.92 L249.47,423.13 L251.97,419.33 L254.53,415.54 L257.17,411.75 L259.89,407.95 L262.71,404.15 L265.63,400.36 L268.68,396.56 L271.86,392.77 L275.19,388.98 L278.66,385.18 L282.21,381.38 L285.81,377.59 L289.42,373.8 L292.52,370 L293.1,369" fill="none" stroke="#0000ff" stroke-width="1.4" stroke-dasharray="1.4 1.3" stroke-linejoin="round" />
<path d="M196.36,521.8 L198.56,518 L200.7,514.21 L202.8,510.41 L204.88,506.62 L206.92,502.82 L208.94,499.03 L210.94,495.23 L212.92,491.44 L214.9,487.64 L216.86,483.85 L218.82,480.05 L220.78,476.26 L222.75,472.46 L224.72,468.67 L226.71,464.88 L228.71,461.08 L230.74,457.28 L232.79,453.49 L234.87,449.69 L236.98,445.9 L239.14,442.1 L241.33,438.31 L243.57,434.51 L245.86,430.72 L248.2,426.92 L250.6,423.13 L253.06,419.33 L255.59,415.54 L258.19,411.75 L260.87,407.95 L263.63,404.15 L266.48,400.36 L269.45,396.56 L272.53,392.77 L275.74,388.98 L279.07,385.18 L282.48,381.38 L285.96,377.59 L289.48,373.8 L292.53,370 L293.1,369" fill="none" stroke="#0000ff" stroke-width="1.4" stroke-dasharray="1.4 1.3" stroke-linejoin="round" />
<path d="M197.42,521.8 L199.63,518 L201.78,514.21 L203.9,510.41 L205.98,506.62 L208.03,502.82 L210.06,499.03 L212.07,495.23 L214.06,491.44 L216.03,487.64 L218,483.85 L219.96,480.05 L221.92,476.26 L223.89,472.46 L225.86,468.67 L227.84,464.88 L229.84,461.08 L231.85,457.28 L233.89,453.49 L235.96,449.69 L238.06,445.9 L240.19,442.1 L242.37,438.31 L244.59,434.51 L246.85,430.72 L249.17,426.92 L251.55,423.13 L253.98,419.33 L256.48,415.54 L259.04,411.75 L261.68,407.95 L264.39,404.15 L267.19,400.36 L270.09,396.56 L273.09,392.77 L276.2,388.98 L279.41,385.18 L282.71,381.38 L286.09,377.59 L289.53,373.8 L292.54,370 L293.1,369" fill="none" stroke="#0000ff" stroke-width="1.4" stroke-dasharray="1.4 1.3" stroke-linejoin="round" />
<path d="M198.26,521.8 L200.49,518 L202.65,514.21 L204.77,510.41 L206.87,506.62 L208.93,502.82 L210.96,499.03 L212.97,495.23 L214.96,491.44 L216.94,487.64 L218.91,483.85 L220.87,480.05 L222.83,476.26 L224.8,472.46 L226.76,468.67 L228.74,464.88 L230.73,461.08 L232.74,457.28 L234.77,453.49 L236.83,449.69 L238.92,445.9 L241.04,442.1 L243.2,438.31 L245.4,434.51 L247.65,430.72 L249.95,426.92 L252.3,423.13 L254.71,419.33 L257.18,415.54 L259.72,411.75 L262.32,407.95 L265,404.15 L267.76,400.36 L270.6,396.56 L273.53,392.77 L276.56,388.98 L279.68,385.18 L282.89,381.38 L286.19,377.59 L289.57,373.8 L292.55,370 L293.1,369" fill="none" stroke="#0000ff" stroke-width="1.4" stroke-dasharray="1.4 1.3" stroke-linejoin="round" />
<path d="M185.98,521.8 L190.6,518 L194.99,514.21 L199.22,510.41 L203.28,506.62 L207.2,502.82 L210.97,499.03 L214.61,495.23 L218.12,491.44 L221.52,487.64 L224.8,483.85 L227.98,480.05 L231.07,476.26 L234.06,472.46 L236.97,468.67 L239.92,464.88 L243.06,461.08 L246.04,457.28 L248.9,453.49 L251.64,449.69 L254.27,445.9 L256.8,442.1 L259.24,438.31 L261.58,434.51 L263.84,430.72 L266.01,426.92 L268.11,423.13 L270.14,419.33 L272.09,415.54 L273.99,411.75 L275.82,407.95 L277.6,404.15 L279.33,400.36 L281.01,396.56 L282.64,392.77 L284.23,388.98 L285.78,385.18 L287.3,381.38 L288.78,377.59 L290.31,373.8 L292.15,370 L293.1,369" fill="none" stroke="#0000ff" stroke-width="1.4" stroke-dasharray="1.4 1.3" stroke-linejoin="round" />
<path d="M190.86,521.8 L194.95,518 L198.86,514.21 L202.65,510.41 L206.32,506.62 L209.87,502.82 L213.32,499.03 L216.66,495.23 L219.91,491.44 L223.07,487.64 L226.14,483.85 L229.13,480.05 L232.05,476.26 L234.89,472.46 L237.68,468.67 L240.51,464.88 L243.55,461.08 L246.45,457.28 L249.23,453.49 L251.91,449.69 L254.49,445.9 L256.97,442.1 L259.37,438.31 L261.68,434.51 L263.92,430.72 L266.07,426.92 L268.15,423.13 L270.17,419.33 L272.12,415.54 L274,411.75 L275.83,407.95 L277.61,404.15 L279.33,400.36 L281.01,396.56 L282.64,392.77 L284.23,388.98 L285.78,385.18 L287.3,381.38 L288.78,377.59 L290.31,373.8 L292.15,370 L293.1,369" fill="none" stroke="#0000ff" stroke-width="1.4" stroke-dasharray="1.4 1.3" stroke-linejoin="round" />
<path d="M193.19,521.8 L197.03,518 L200.72,514.21 L204.29,510.41 L207.77,506.62 L211.15,502.82 L214.44,499.03 L217.64,495.23 L220.76,491.44 L223.81,487.64 L226.78,483.85 L229.68,480.05 L232.52,476.26 L235.29,472.46 L238.01,468.67 L240.79,464.88 L243.78,461.08 L246.64,457.28 L249.39,453.49 L252.04,449.69 L254.59,445.9 L257.06,442.1 L259.44,438.31 L261.73,434.51 L263.95,430.72 L266.1,426.92 L268.17,423.13 L270.18,419.33 L272.13,415.54 L274.01,411.75 L275.84,407.95 L277.61,404.15 L279.33,400.36 L281.01,396.56 L282.64,392.77 L284.23,388.98 L285.78,385.18 L287.3,381.38 L288.78,377.59 L290.31,373.8 L292.15,370 L293.1,369" fill="none" stroke="#0000ff" stroke-width="1.4" stroke-dasharray="1.4 1.3" stroke-linejoin="round" />
<path d="M194.88,521.8 L198.55,518 L202.06,514.21 L205.49,510.41 L208.83,506.62 L212.08,502.82 L215.26,499.03 L218.36,495.23 L221.39,491.44 L224.35,487.64 L227.24,483.85 L230.08,480.05 L232.86,476.26 L235.58,472.46 L238.25,468.67 L240.99,464.88 L243.95,461.08 L246.78,457.28 L249.5,453.49 L252.13,449.69 L254.67,445.9 L257.12,442.1 L259.48,438.31 L261.77,434.51 L263.98,430.72 L266.12,426.92 L268.19,423.13 L270.19,419.33 L272.13,415.54 L274.02,411.75 L275.84,407.95 L277.61,404.15 L279.33,400.36 L281.01,396.56 L282.64,392.77 L284.23,388.98 L285.78,385.18 L287.3,381.38 L288.78,377.59 L290.31,373.8 L292.15,370 L293.1,369" fill="none" stroke="#0000ff" stroke-width="1.4" stroke-dasharray="1.4 1.3" stroke-linejoin="round" />
<path d="M196.16,521.8 L199.68,518 L203.07,514.21 L206.38,510.41 L209.62,506.62 L212.78,502.82 L215.87,499.03 L218.89,495.23 L221.85,491.44 L224.75,487.64 L227.59,483.85 L230.38,480.05 L233.11,476.26 L235.8,472.46 L238.44,468.67 L241.15,464.88 L244.08,461.08 L246.89,457.28 L249.59,453.49 L252.2,449.69 L254.72,445.9 L257.16,442.1 L259.52,438.31 L261.8,434.51 L264,430.72 L266.14,426.92 L268.2,423.13 L270.2,419.33 L272.14,415.54 L274.02,411.75 L275.84,407.95 L277.61,404.15 L279.34,400.36 L281.01,396.56 L282.64,392.77 L284.23,388.98 L285.78,385.18 L287.3,381.38 L288.78,377.59 L290.31,373.8 L292.15,370 L293.1,369" fill="none" stroke="#0000ff" stroke-width="1.4" stroke-dasharray="1.4 1.3" stroke-linejoin="round" />
<path d="M197.22,521.8 L200.63,518 L203.91,514.21 L207.13,510.41 L210.28,506.62 L213.36,502.82 L216.38,499.03 L219.34,495.23 L222.24,491.44 L225.09,487.64 L227.88,483.85 L230.63,480.05 L233.33,476.26 L235.98,472.46 L238.59,468.67 L241.28,464.88 L244.19,461.08 L246.97,457.28 L249.66,453.49 L252.26,449.69 L254.77,445.9 L257.2,442.1 L259.55,438.31 L261.82,434.51 L264.02,430.72 L266.15,426.92 L268.21,423.13 L270.21,419.33 L272.14,415.54 L274.02,411.75 L275.85,407.95 L277.62,404.15 L279.34,400.36 L281.01,396.56 L282.64,392.77 L284.23,388.98 L285.78,385.18 L287.3,381.38 L288.78,377.59 L290.31,373.8 L292.15,370 L293.1,369" fill="none" stroke="#0000ff" stroke-width="1.4" stroke-dasharray="1.4 1.3" stroke-linejoin="round" />
<path d="M198.06,521.8 L201.39,518 L204.59,514.21 L207.73,510.41 L210.8,506.62 L213.82,502.82 L216.79,499.03 L219.69,495.23 L222.55,491.44 L225.36,487.64 L228.11,483.85 L230.83,480.05 L233.5,476.26 L236.12,472.46 L238.71,468.67 L241.38,464.88 L244.27,461.08 L247.04,457.28 L249.72,453.49 L252.3,449.69 L254.81,445.9 L257.23,442.1 L259.57,438.31 L261.84,434.51 L264.03,430.72 L266.16,426.92 L268.22,423.13 L270.21,419.33 L272.15,415.54 L274.02,411.75 L275.85,407.95 L277.62,404.15 L279.34,400.36 L281.01,396.56 L282.64,392.77 L284.23,388.98 L285.78,385.18 L287.3,381.38 L288.78,377.59 L290.31,373.8 L292.15,370 L293.1,369" fill="none" stroke="#0000ff" stroke-width="1.4" stroke-dasharray="1.4 1.3" stroke-linejoin="round" />
<path d="M198.4,521.8 L201.69,518 L204.85,514.21 L207.96,510.41 L211.01,506.62 L214.01,502.82 L216.95,499.03 L219.84,495.23 L222.67,491.44 L225.46,487.64 L228.21,483.85 L230.91,480.05 L233.56,476.26 L236.18,472.46 L238.76,468.67 L241.42,464.88 L244.31,461.08 L247.07,457.28 L249.74,453.49 L252.32,449.69 L254.82,445.9 L257.24,442.1 L259.58,438.31 L261.85,434.51 L264.04,430.72 L266.16,426.92 L268.22,423.13 L270.22,419.33 L272.15,415.54 L274.03,411.75 L275.85,407.95 L277.62,404.15 L279.34,400.36 L281.01,396.56 L282.64,392.77 L284.23,388.98 L285.78,385.18 L287.3,381.38 L288.78,377.59 L290.31,373.8 L292.15,370 L293.1,369" fill="none" stroke="#0000ff" stroke-width="1.4" stroke-dasharray="1.4 1.3" stroke-linejoin="round" />
<path d="M218.3,521.8 L219.49,519.26 L220.72,516.72 L221.95,514.17 L223.19,511.63 L224.44,509.09 L225.69,506.55 L226.94,504 L228.21,501.46 L229.47,498.92 L230.74,496.38 L232.02,493.83 L233.29,491.29 L234.57,488.75 L235.86,486.21 L237.14,483.66 L238.43,481.12 L239.72,478.58 L241.02,476.04 L242.31,473.49 L243.6,470.95 L244.9,468.41 L246.19,465.87 L247.49,463.33 L248.79,460.78 L250.08,458.24 L251.37,455.7 L252.67,453.16 L253.96,450.61 L255.25,448.07 L256.53,445.53 L257.82,442.99 L259.1,440.44 L260.38,437.9 L261.65,435.36 L262.92,432.82 L264.19,430.27 L265.45,427.73 L266.7,425.19 L267.96,422.65 L269.2,420.11 L270.44,417.56 L271.68,415.02 L272.9,412.48 L274.13,409.94 L275.34,407.39 L276.55,404.85 L277.74,402.31 L278.94,399.77 L280.12,397.22 L281.29,394.68 L282.46,392.14 L283.61,389.6 L284.76,387.05 L285.89,384.51 L287.02,381.97 L288.13,379.43 L289.23,376.88 L290.33,374.34 L291.6,371.8" fill="none" stroke="#000" stroke-width="1.5" stroke-dasharray="1.4 1.8" stroke-linejoin="round" />
<path d="M198.9,521.8 L200.43,519.21 L201.93,516.62 L203.4,514.03 L204.86,511.44 L206.3,508.85 L207.72,506.26 L209.14,503.67 L210.53,501.08 L211.92,498.49 L213.3,495.9 L214.66,493.31 L216.02,490.72 L217.37,488.13 L218.72,485.54 L220.06,482.95 L221.4,480.36 L222.74,477.77 L224.07,475.18 L225.41,472.59 L226.75,470 L228.1,467.41 L229.45,464.82 L230.8,462.23 L232.16,459.64 L233.53,457.05 L234.91,454.46 L236.31,451.87 L237.71,449.28 L239.13,446.69 L240.56,444.11 L242.01,441.52 L243.47,438.93 L244.96,436.34 L246.46,433.75 L247.99,431.16 L249.54,428.57 L251.11,425.98 L252.71,423.39 L254.33,420.8 L255.98,418.21 L257.66,415.62 L259.37,413.03 L261.11,410.44 L262.88,407.85 L264.68,405.26 L266.52,402.67 L268.39,400.08 L270.3,397.49 L272.24,394.9 L274.22,392.31 L276.25,389.72 L278.31,387.13 L280.41,384.54 L282.55,381.95 L284.74,379.36 L286.98,376.77 L289.25,374.18 L291.58,371.59 L293.1,369" fill="none" stroke="#ff0000" stroke-width="1.8" stroke-linejoin="round" stroke-linecap="round"/>
<path d="M198.9,521.8 L201.14,519.21 L203.3,516.62 L205.44,514.03 L207.55,511.44 L209.63,508.85 L211.68,506.26 L213.71,503.67 L215.72,501.08 L217.7,498.49 L219.66,495.9 L221.6,493.31 L223.51,490.72 L225.4,488.13 L227.28,485.54 L229.13,482.95 L230.96,480.36 L232.77,477.77 L234.57,475.18 L236.34,472.59 L238.1,470 L239.85,467.41 L241.58,464.82 L243.29,462.23 L244.99,459.64 L246.67,457.05 L248.34,454.46 L249.99,451.87 L251.63,449.28 L253.25,446.69 L254.85,444.11 L256.44,441.52 L258,438.93 L259.55,436.34 L261.07,433.75 L262.57,431.16 L264.05,428.57 L265.5,425.98 L266.93,423.39 L268.34,420.8 L269.71,418.21 L271.07,415.62 L272.4,413.03 L273.7,410.44 L274.99,407.85 L276.25,405.26 L277.5,402.67 L278.72,400.08 L279.93,397.49 L281.12,394.9 L282.29,392.31 L283.44,389.72 L284.59,387.13 L285.72,384.54 L286.84,381.95 L287.95,379.36 L289.06,376.77 L290.17,374.18 L291.27,371.59 L293.1,369" fill="none" stroke="#ff0000" stroke-width="1.8" stroke-linejoin="round" stroke-linecap="round"/>
<circle cx="293.1" cy="369.6" r="1.5" fill="#ff0000"/>
<path d="M173.6,521.8 L177.6,519.26 L181.73,516.72 L185.77,514.17 L189.72,511.63 L193.56,509.09 L197.3,506.55 L200.92,504 L204.43,501.46 L207.82,498.92 L211.08,496.38 L214.2,493.83 L217.19,491.29 L220.04,488.75 L222.76,486.21 L225.35,483.66 L227.83,481.12 L230.21,478.58 L232.49,476.04 L234.69,473.49 L236.82,470.95 L238.89,468.41 L240.9,465.87 L242.85,463.33 L244.76,460.78 L246.61,458.24 L248.42,455.7 L250.19,453.16 L251.92,450.61 L253.62,448.07 L255.27,445.53 L256.9,442.99 L258.48,440.44 L260.04,437.9 L261.55,435.36 L263.04,432.82 L264.5,430.27 L265.92,427.73 L267.32,425.19 L268.68,422.65 L270.02,420.11 L271.33,417.56 L272.61,415.02 L273.87,412.48 L275.1,409.94 L276.31,407.39 L277.5,404.85 L278.66,402.31 L279.8,399.77 L280.92,397.22 L282.03,394.68 L283.11,392.14 L284.17,389.6 L285.22,387.05 L286.25,384.51 L287.27,381.97 L288.27,379.43 L289.26,376.88 L290.23,374.34 L291.5,371.8" fill="none" stroke="#000" stroke-width="1.6" stroke-linejoin="round" />
<path d="M39.8,521.8 L42.99,520.96 L46.17,520.15 L49.36,518.74 L52.55,516.79 L55.74,514.36 L58.92,511.5 L62.11,508.26 L65.3,504.7 L68.49,500.89 L71.67,496.9 L74.86,492.8 L78.05,488.64 L81.24,484.51 L84.42,480.46 L87.61,476.52 L90.8,472.68 L93.98,468.95 L97.17,465.33 L100.36,461.82 L103.55,458.44 L106.73,455.17 L109.92,452.02 L113.11,449 L116.3,446.11 L119.48,443.34 L122.67,440.71 L125.86,438.21 L129.05,435.85 L132.23,433.63 L135.42,431.55 L138.61,429.62 L141.79,427.83 L144.98,426.15 L148.17,424.57 L151.36,423.09 L154.54,421.67 L157.73,420.32 L160.92,419 L164.11,417.71 L167.29,416.42 L170.48,415.13 L173.67,413.81 L176.86,412.46 L180.04,411.08 L183.23,409.69 L186.42,408.29 L189.61,406.9 L192.79,405.52 L195.98,404.15 L199.17,402.82 L202.35,401.52 L205.54,400.27 L208.73,399.05 L211.92,397.87 L215.1,396.72 L218.29,395.59 L221.48,394.5 L224.67,393.42 L227.85,392.37 L231.04,391.34 L234.23,390.32 L237.42,389.31 L240.6,388.32 L243.79,387.33 L246.98,386.34 L250.16,385.36 L253.35,384.38 L256.54,383.39 L259.73,382.4 L262.91,381.4 L266.1,380.39 L269.29,379.36 L272.48,378.32 L275.66,377.26 L278.85,376.17 L282.04,375.06 L285.23,373.93 L288.41,372.76 L291.6,371.8" fill="none" stroke="#000" stroke-width="1.6" stroke-linejoin="round" />
<rect x="39.8" y="284.4" width="296.2" height="237.4" fill="none" stroke="#000" stroke-width="1.6"/>
<line x1="39.8" y1="521.8" x2="39.8" y2="517.3" stroke="#000" stroke-width="1.3" />
<line x1="82.11" y1="521.8" x2="82.11" y2="519.3" stroke="#000" stroke-width="1.3" />
<line x1="124.43" y1="521.8" x2="124.43" y2="517.3" stroke="#000" stroke-width="1.3" />
<line x1="166.74" y1="521.8" x2="166.74" y2="519.3" stroke="#000" stroke-width="1.3" />
<line x1="209.06" y1="521.8" x2="209.06" y2="517.3" stroke="#000" stroke-width="1.3" />
<line x1="251.37" y1="521.8" x2="251.37" y2="519.3" stroke="#000" stroke-width="1.3" />
<line x1="293.69" y1="521.8" x2="293.69" y2="517.3" stroke="#000" stroke-width="1.3" />
<line x1="39.8" y1="521.8" x2="44.3" y2="521.8" stroke="#000" stroke-width="1.3" />
<line x1="39.8" y1="495.42" x2="42.3" y2="495.42" stroke="#000" stroke-width="1.3" />
<line x1="39.8" y1="469.04" x2="44.3" y2="469.04" stroke="#000" stroke-width="1.3" />
<line x1="39.8" y1="442.67" x2="42.3" y2="442.67" stroke="#000" stroke-width="1.3" />
<line x1="39.8" y1="416.29" x2="44.3" y2="416.29" stroke="#000" stroke-width="1.3" />
<line x1="39.8" y1="389.91" x2="42.3" y2="389.91" stroke="#000" stroke-width="1.3" />
<line x1="39.8" y1="363.53" x2="44.3" y2="363.53" stroke="#000" stroke-width="1.3" />
<line x1="39.8" y1="337.16" x2="42.3" y2="337.16" stroke="#000" stroke-width="1.3" />
<line x1="39.8" y1="310.78" x2="44.3" y2="310.78" stroke="#000" stroke-width="1.3" />
<text x="36.3" y="538.11" font-size="14" fill="#000">0</text>
<text x="120.94" y="538.07" font-size="14" fill="#000">2</text>
<text x="205.59" y="538.01" font-size="14" fill="#000">4</text>
<text x="290.15" y="538.07" font-size="14" fill="#000">6</text>
<text x="27.83" y="526.43" font-size="14" fill="#000">0</text>
<text x="27.56" y="473.68" font-size="14" fill="#000">4</text>
<text x="27.76" y="420.92" font-size="14" fill="#000">8</text>
<text x="20.9" y="368.17" font-size="14" fill="#000">12</text>
<text x="20.71" y="315.41" font-size="14" fill="#000">16</text>
<text x="99.18" y="554.2" font-size="14.65" fill="#000">Compressive strain (%)</text>
<text transform="translate(12.8,484.42) rotate(-90)" x="0" y="0" font-size="14.65">Compressive stress (MPa)</text>
<text x="1.08" y="293.47" font-size="21" fill="#000">(c)</text>
<text x="46.15" y="301.9" font-size="14.3" fill="#000">D-solid</text>
<line x1="52.8" y1="318.3" x2="106" y2="318.3" stroke="#000" stroke-width="1.6" />
<path d="M106,315.4 L115.9,318.3 L106,321.2 Z" fill="#000"/>
<text x="53.83" y="333.5" font-size="14.55" fill="#000">10 Cycles</text>
<text x="97.55" y="400.4" font-size="14.4" fill="#000">1</text>
<text x="105" y="394.55" font-size="9.9" fill="#000">st</text>
<text x="115.9" y="400.4" font-size="14.4" fill="#000">Cycle</text>
<line x1="134.5" y1="404.5" x2="152.3" y2="421.9" stroke="#000" stroke-width="1.3" />
<text x="255.95" y="503.9" font-size="14.4" fill="#000">10</text>
<text x="270" y="497.25" font-size="9.9" fill="#000">st</text>
<text x="281.2" y="503.9" font-size="14.4" fill="#000">Cycle</text>
<line x1="250.5" y1="495.1" x2="233" y2="478" stroke="#000" stroke-width="1.3" />
<path d="M480.5,519.8 L483.46,514.7 L486.56,509.61 L489.55,504.51 L492.47,499.42 L495.32,494.32 L498.11,489.23 L500.85,484.13 L503.55,479.04 L506.21,473.94 L508.86,468.85 L511.49,463.75 L514.13,458.66 L516.76,453.56 L519.42,448.47 L522.1,443.38 L524.81,438.28 L527.57,433.18 L530.39,428.09 L533.27,423 L536.22,417.9 L539.25,412.8 L542.37,407.71 L545.6,402.62 L548.94,397.52 L552.44,392.42 L556.12,387.33 L560.02,382.24 L564.18,377.14 L568.63,372.04 L573.4,366.95 L578.54,361.86 L584.07,356.76 L590.04,351.66 L596.48,346.57 L603.4,341.48 L610.81,336.38 L618.7,331.28 L626.89,326.19 L634.14,321.1 L638.49,316 L639,315" fill="none" stroke="#0000ff" stroke-width="1.4" stroke-dasharray="1.4 1.3" stroke-linejoin="round" />
<path d="M497.06,519.8 L500.55,514.7 L503.8,509.61 L506.83,504.51 L509.65,499.42 L512.32,494.32 L514.87,489.23 L517.33,484.13 L519.74,479.04 L522.13,473.94 L524.53,468.85 L526.93,463.75 L529.34,458.66 L531.77,453.56 L534.24,448.47 L536.73,443.38 L539.27,438.28 L541.86,433.18 L544.51,428.09 L547.22,423 L550,417.9 L552.85,412.8 L555.8,407.71 L558.84,402.62 L561.99,397.52 L565.27,392.42 L568.71,387.33 L572.31,382.24 L576.12,377.14 L580.15,372.04 L584.42,366.95 L588.97,361.86 L593.79,356.76 L598.91,351.66 L604.32,346.57 L610.01,341.48 L615.96,336.38 L622.13,331.28 L628.43,326.19 L634.16,321.1 L638.34,316 L639,315" fill="none" stroke="#0000ff" stroke-width="1.4" stroke-dasharray="1.4 1.3" stroke-linejoin="round" />
<path d="M504.05,519.8 L507.76,514.7 L511.08,509.61 L514.12,504.51 L516.91,499.42 L519.5,494.32 L521.95,489.23 L524.29,484.13 L526.58,479.04 L528.86,473.94 L531.14,468.85 L533.44,463.75 L535.76,458.66 L538.11,453.56 L540.49,448.47 L542.91,443.38 L545.38,438.28 L547.89,433.18 L550.47,428.09 L553.11,423 L555.81,417.9 L558.6,412.8 L561.47,407.71 L564.43,402.62 L567.5,397.52 L570.69,392.42 L574.02,387.33 L577.51,382.24 L581.17,377.14 L585.02,372.04 L589.08,366.95 L593.37,361.86 L597.9,356.76 L602.66,351.66 L607.64,346.57 L612.81,341.48 L618.13,336.38 L623.58,331.28 L629.08,326.19 L634.17,321.1 L638.28,316 L639,315" fill="none" stroke="#0000ff" stroke-width="1.4" stroke-dasharray="1.4 1.3" stroke-linejoin="round" />
<path d="M508.1,519.8 L511.94,514.7 L515.3,509.61 L518.34,504.51 L521.11,499.42 L523.66,494.32 L526.04,489.23 L528.32,484.13 L530.54,479.04 L532.75,473.94 L534.97,468.85 L537.21,463.75 L539.48,458.66 L541.78,453.56 L544.11,448.47 L546.49,443.38 L548.91,438.28 L551.39,433.18 L553.92,428.09 L556.52,423 L559.18,417.9 L561.92,412.8 L564.75,407.71 L567.67,402.62 L570.69,397.52 L573.83,392.42 L577.1,387.33 L580.51,382.24 L584.09,377.14 L587.84,372.04 L591.77,366.95 L595.92,361.86 L600.27,356.76 L604.83,351.66 L609.56,346.57 L614.42,341.48 L619.39,336.38 L624.42,331.28 L629.46,326.19 L634.17,321.1 L638.24,316 L639,315" fill="none" stroke="#0000ff" stroke-width="1.4" stroke-dasharray="1.4 1.3" stroke-linejoin="round" />
<path d="M511.04,519.8 L514.98,514.7 L518.36,509.61 L521.41,504.51 L524.16,499.42 L526.68,494.32 L529.02,489.23 L531.25,484.13 L533.42,479.04 L535.58,473.94 L537.76,468.85 L539.96,463.75 L542.19,458.66 L544.45,453.56 L546.75,448.47 L549.09,443.38 L551.48,438.28 L553.93,433.18 L556.43,428.09 L559,423 L561.63,417.9 L564.34,412.8 L567.14,407.71 L570.02,402.62 L573.01,397.52 L576.11,392.42 L579.34,387.33 L582.7,382.24 L586.21,377.14 L589.88,372.04 L593.73,366.95 L597.77,361.86 L602,356.76 L606.41,351.66 L610.95,346.57 L615.6,341.48 L620.3,336.38 L625.03,331.28 L629.73,326.19 L634.17,321.1 L638.22,316 L639,315" fill="none" stroke="#0000ff" stroke-width="1.4" stroke-dasharray="1.4 1.3" stroke-linejoin="round" />
<path d="M513.25,519.8 L517.26,514.7 L520.66,509.61 L523.71,504.51 L526.45,499.42 L528.95,494.32 L531.26,489.23 L533.45,484.13 L535.57,479.04 L537.7,473.94 L539.85,468.85 L542.02,463.75 L544.22,458.66 L546.45,453.56 L548.72,448.47 L551.04,443.38 L553.41,438.28 L555.83,433.18 L558.31,428.09 L560.86,423 L563.47,417.9 L566.16,412.8 L568.93,407.71 L571.79,402.62 L574.75,397.52 L577.82,392.42 L581.01,387.33 L584.34,382.24 L587.8,377.14 L591.42,372.04 L595.2,366.95 L599.16,361.86 L603.3,356.76 L607.59,351.66 L612,346.57 L616.48,341.48 L620.99,336.38 L625.49,331.28 L629.94,326.19 L634.17,321.1 L638.2,316 L639,315" fill="none" stroke="#0000ff" stroke-width="1.4" stroke-dasharray="1.4 1.3" stroke-linejoin="round" />
<path d="M515.09,519.8 L519.15,514.7 L522.58,509.61 L525.63,504.51 L528.36,499.42 L530.84,494.32 L533.12,489.23 L535.28,484.13 L537.37,479.04 L539.47,473.94 L541.59,468.85 L543.73,463.75 L545.91,458.66 L548.12,453.56 L550.37,448.47 L552.67,443.38 L555.02,438.28 L557.42,433.18 L559.88,428.09 L562.41,423 L565,417.9 L567.67,412.8 L570.42,407.71 L573.26,402.62 L576.2,397.52 L579.25,392.42 L582.41,387.33 L585.7,382.24 L589.13,377.14 L592.7,372.04 L596.43,366.95 L600.32,361.86 L604.38,356.76 L608.58,351.66 L612.87,346.57 L617.21,341.48 L621.56,336.38 L625.87,331.28 L630.11,326.19 L634.18,321.1 L638.18,316 L639,315" fill="none" stroke="#0000ff" stroke-width="1.4" stroke-dasharray="1.4 1.3" stroke-linejoin="round" />
<path d="M516.56,519.8 L520.67,514.7 L524.11,509.61 L527.17,504.51 L529.89,499.42 L532.35,494.32 L534.61,489.23 L536.74,484.13 L538.81,479.04 L540.88,473.94 L542.98,468.85 L545.1,463.75 L547.26,458.66 L549.45,453.56 L551.69,448.47 L553.97,443.38 L556.3,438.28 L558.69,433.18 L561.14,428.09 L563.65,423 L566.22,417.9 L568.88,412.8 L571.61,407.71 L574.44,402.62 L577.36,397.52 L580.39,392.42 L583.53,387.33 L586.8,382.24 L590.19,377.14 L593.73,372.04 L597.41,366.95 L601.25,361.86 L605.24,356.76 L609.37,351.66 L613.57,346.57 L617.8,341.48 L622.02,336.38 L626.17,331.28 L630.25,326.19 L634.18,321.1 L638.17,316 L639,315" fill="none" stroke="#0000ff" stroke-width="1.4" stroke-dasharray="1.4 1.3" stroke-linejoin="round" />
<path d="M496.86,519.8 L503.78,514.7 L510.18,509.61 L516.31,504.51 L522.16,499.42 L527.76,494.32 L533.12,489.23 L538.25,484.13 L543.17,479.04 L547.9,473.94 L552.45,468.85 L556.82,463.75 L561.04,458.66 L565.12,453.56 L569.07,448.47 L572.86,443.38 L577.22,438.28 L581.63,433.18 L585.84,428.09 L589.84,423 L593.64,417.9 L597.24,412.8 L600.62,407.71 L603.81,402.62 L606.78,397.52 L609.54,392.42 L612.1,387.33 L614.45,382.24 L616.63,377.14 L618.66,372.04 L620.58,366.95 L622.42,361.86 L624.21,356.76 L625.97,351.66 L627.74,346.57 L629.54,341.48 L631.4,336.38 L633.36,331.28 L635.44,326.19 L637.22,321.1 L638.21,316 L639,315" fill="none" stroke="#0000ff" stroke-width="1.4" stroke-dasharray="1.4 1.3" stroke-linejoin="round" />
<path d="M503.85,519.8 L510.02,514.7 L515.73,509.61 L521.23,504.51 L526.51,499.42 L531.59,494.32 L536.48,489.23 L541.19,484.13 L545.74,479.04 L550.12,473.94 L554.36,468.85 L558.47,463.75 L562.45,458.66 L566.31,453.56 L570.07,448.47 L573.71,443.38 L577.92,438.28 L582.21,433.18 L586.32,428.09 L590.23,423 L593.95,417.9 L597.48,412.8 L600.82,407.71 L603.95,402.62 L606.89,397.52 L609.63,392.42 L612.16,387.33 L614.5,382.24 L616.66,377.14 L618.68,372.04 L620.6,366.95 L622.43,361.86 L624.21,356.76 L625.97,351.66 L627.74,346.57 L629.54,341.48 L631.4,336.38 L633.36,331.28 L635.44,326.19 L637.22,321.1 L638.21,316 L639,315" fill="none" stroke="#0000ff" stroke-width="1.4" stroke-dasharray="1.4 1.3" stroke-linejoin="round" />
<path d="M507.9,519.8 L513.63,514.7 L518.95,509.61 L524.08,504.51 L529.03,499.42 L533.81,494.32 L538.43,489.23 L542.9,484.13 L547.22,479.04 L551.41,473.94 L555.47,468.85 L559.42,463.75 L563.26,458.66 L567,453.56 L570.65,448.47 L574.2,443.38 L578.33,438.28 L582.55,433.18 L586.59,428.09 L590.45,423 L594.13,417.9 L597.62,412.8 L600.93,407.71 L604.04,402.62 L606.96,397.52 L609.68,392.42 L612.2,387.33 L614.52,382.24 L616.68,377.14 L618.7,372.04 L620.61,366.95 L622.44,361.86 L624.22,356.76 L625.97,351.66 L627.74,346.57 L629.54,341.48 L631.4,336.38 L633.36,331.28 L635.44,326.19 L637.22,321.1 L638.21,316 L639,315" fill="none" stroke="#0000ff" stroke-width="1.4" stroke-dasharray="1.4 1.3" stroke-linejoin="round" />
<path d="M510.84,519.8 L516.26,514.7 L521.28,509.61 L526.15,504.51 L530.86,499.42 L535.43,494.32 L539.85,489.23 L544.13,484.13 L548.3,479.04 L552.34,473.94 L556.28,468.85 L560.11,463.75 L563.85,458.66 L567.51,453.56 L571.08,448.47 L574.55,443.38 L578.62,438.28 L582.79,433.18 L586.79,428.09 L590.61,423 L594.26,417.9 L597.73,412.8 L601.01,407.71 L604.1,402.62 L607.01,397.52 L609.71,392.42 L612.22,387.33 L614.54,382.24 L616.69,377.14 L618.71,372.04 L620.61,366.95 L622.44,361.86 L624.22,356.76 L625.98,351.66 L627.74,346.57 L629.54,341.48 L631.4,336.38 L633.36,331.28 L635.44,326.19 L637.22,321.1 L638.21,316 L639,315" fill="none" stroke="#0000ff" stroke-width="1.4" stroke-dasharray="1.4 1.3" stroke-linejoin="round" />
<path d="M513.05,519.8 L518.23,514.7 L523.04,509.61 L527.71,504.51 L532.24,499.42 L536.64,494.32 L540.91,489.23 L545.06,484.13 L549.11,479.04 L553.04,473.94 L556.88,468.85 L560.63,463.75 L564.3,458.66 L567.88,453.56 L571.4,448.47 L574.82,443.38 L578.84,438.28 L582.97,433.18 L586.94,428.09 L590.74,423 L594.36,417.9 L597.8,412.8 L601.07,407.71 L604.15,402.62 L607.04,397.52 L609.74,392.42 L612.24,387.33 L614.55,382.24 L616.7,377.14 L618.71,372.04 L620.62,366.95 L622.44,361.86 L624.22,356.76 L625.98,351.66 L627.74,346.57 L629.54,341.48 L631.4,336.38 L633.36,331.28 L635.44,326.19 L637.22,321.1 L638.21,316 L639,315" fill="none" stroke="#0000ff" stroke-width="1.4" stroke-dasharray="1.4 1.3" stroke-linejoin="round" />
<path d="M514.89,519.8 L519.87,514.7 L524.5,509.61 L529,504.51 L533.38,499.42 L537.65,494.32 L541.79,489.23 L545.84,484.13 L549.78,479.04 L553.63,473.94 L557.39,468.85 L561.07,463.75 L564.67,458.66 L568.2,453.56 L571.66,448.47 L575.04,443.38 L579.03,438.28 L583.13,433.18 L587.06,428.09 L590.84,423 L594.44,417.9 L597.87,412.8 L601.12,407.71 L604.19,402.62 L607.07,397.52 L609.76,392.42 L612.26,387.33 L614.57,382.24 L616.71,377.14 L618.72,372.04 L620.62,366.95 L622.45,361.86 L624.22,356.76 L625.98,351.66 L627.74,346.57 L629.54,341.48 L631.4,336.38 L633.36,331.28 L635.44,326.19 L637.22,321.1 L638.21,316 L639,315" fill="none" stroke="#0000ff" stroke-width="1.4" stroke-dasharray="1.4 1.3" stroke-linejoin="round" />
<path d="M516.36,519.8 L521.19,514.7 L525.67,509.61 L530.04,504.51 L534.3,499.42 L538.45,494.32 L542.5,489.23 L546.46,484.13 L550.32,479.04 L554.1,473.94 L557.79,468.85 L561.41,463.75 L564.96,458.66 L568.45,453.56 L571.87,448.47 L575.22,443.38 L579.18,438.28 L583.25,433.18 L587.16,428.09 L590.92,423 L594.5,417.9 L597.92,412.8 L601.16,407.71 L604.22,402.62 L607.1,397.52 L609.78,392.42 L612.27,387.33 L614.57,382.24 L616.72,377.14 L618.72,372.04 L620.62,366.95 L622.45,361.86 L624.22,356.76 L625.98,351.66 L627.74,346.57 L629.54,341.48 L631.4,336.38 L633.36,331.28 L635.44,326.19 L637.22,321.1 L638.21,316 L639,315" fill="none" stroke="#0000ff" stroke-width="1.4" stroke-dasharray="1.4 1.3" stroke-linejoin="round" />
<path d="M516.8,519.8 L521.58,514.7 L526.01,509.61 L530.35,504.51 L534.57,499.42 L538.69,494.32 L542.71,489.23 L546.64,484.13 L550.48,479.04 L554.23,473.94 L557.91,468.85 L561.51,463.75 L565.05,458.66 L568.52,453.56 L571.94,448.47 L575.27,443.38 L579.22,438.28 L583.29,433.18 L587.19,428.09 L590.94,423 L594.52,417.9 L597.94,412.8 L601.17,407.71 L604.23,402.62 L607.1,397.52 L609.79,392.42 L612.28,387.33 L614.58,382.24 L616.72,377.14 L618.72,372.04 L620.62,366.95 L622.45,361.86 L624.22,356.76 L625.98,351.66 L627.74,346.57 L629.54,341.48 L631.4,336.38 L633.36,331.28 L635.44,326.19 L637.22,321.1 L638.21,316 L639,315" fill="none" stroke="#0000ff" stroke-width="1.4" stroke-dasharray="1.4 1.3" stroke-linejoin="round" />
<path d="M560.2,519.8 L561.28,516.44 L562.51,513.09 L563.76,509.73 L565.02,506.38 L566.29,503.02 L567.58,499.66 L568.88,496.31 L570.2,492.95 L571.52,489.6 L572.86,486.24 L574.21,482.88 L575.56,479.53 L576.92,476.17 L578.3,472.82 L579.68,469.46 L581.06,466.11 L582.45,462.75 L583.85,459.39 L585.25,456.04 L586.65,452.68 L588.05,449.33 L589.46,445.97 L590.87,442.61 L592.28,439.26 L593.69,435.9 L595.1,432.55 L596.5,429.19 L597.91,425.83 L599.31,422.48 L600.7,419.12 L602.1,415.77 L603.48,412.41 L604.86,409.05 L606.24,405.7 L607.6,402.34 L608.96,398.99 L610.31,395.63 L611.65,392.27 L612.97,388.92 L614.29,385.56 L615.6,382.21 L616.89,378.85 L618.18,375.49 L619.45,372.14 L620.72,368.78 L621.97,365.43 L623.22,362.07 L624.45,358.72 L625.67,355.36 L626.89,352 L628.09,348.65 L629.29,345.29 L630.47,341.94 L631.65,338.58 L632.82,335.22 L633.97,331.87 L635.12,328.51 L636.26,325.16 L637.6,321.8" fill="none" stroke="#000" stroke-width="1.5" stroke-dasharray="1.4 1.8" stroke-linejoin="round" />
<path d="M517.3,519.8 L520.22,516.33 L522.73,512.86 L525.02,509.39 L527.13,505.92 L529.08,502.44 L530.88,498.97 L532.56,495.5 L534.14,492.03 L535.64,488.56 L537.09,485.09 L538.5,481.62 L539.89,478.15 L541.3,474.67 L542.71,471.2 L544.14,467.73 L545.58,464.26 L547.03,460.79 L548.51,457.32 L550,453.85 L551.51,450.38 L553.04,446.91 L554.59,443.43 L556.17,439.96 L557.77,436.49 L559.4,433.02 L561.06,429.55 L562.74,426.08 L564.46,422.61 L566.21,419.14 L567.99,415.66 L569.8,412.19 L571.66,408.72 L573.56,405.25 L575.5,401.78 L577.48,398.31 L579.52,394.84 L581.6,391.37 L583.74,387.89 L585.93,384.42 L588.18,380.95 L590.49,377.48 L592.87,374.01 L595.31,370.54 L597.81,367.07 L600.39,363.6 L603.04,360.13 L605.76,356.65 L608.53,353.18 L611.35,349.71 L614.19,346.24 L617.04,342.77 L619.87,339.3 L622.69,335.83 L625.48,332.36 L628.22,328.88 L630.91,325.41 L633.55,321.94 L636.13,318.47 L639,315" fill="none" stroke="#ff0000" stroke-width="1.8" stroke-linejoin="round" stroke-linecap="round"/>
<path d="M517.3,519.8 L520.6,516.33 L523.65,512.86 L526.64,509.39 L529.59,505.92 L532.48,502.44 L535.32,498.97 L538.12,495.5 L540.87,492.03 L543.58,488.56 L546.24,485.09 L548.87,481.62 L551.45,478.15 L554,474.67 L556.51,471.2 L558.99,467.73 L561.43,464.26 L563.84,460.79 L566.23,457.32 L568.58,453.85 L570.91,450.38 L573.21,446.91 L575.49,443.43 L577.75,439.96 L579.99,436.49 L582.21,433.02 L584.41,429.55 L586.59,426.08 L588.75,422.61 L590.88,419.14 L592.99,415.66 L595.06,412.19 L597.1,408.72 L599.1,405.25 L601.06,401.78 L602.97,398.31 L604.84,394.84 L606.66,391.37 L608.43,387.89 L610.15,384.42 L611.81,380.95 L613.4,377.48 L614.94,374.01 L616.43,370.54 L617.88,367.07 L619.29,363.6 L620.66,360.13 L622.02,356.65 L623.35,353.18 L624.67,349.71 L625.99,346.24 L627.3,342.77 L628.62,339.3 L629.95,335.83 L631.31,332.36 L632.69,328.88 L634.1,325.41 L635.54,321.94 L637.04,318.47 L639,315" fill="none" stroke="#ff0000" stroke-width="1.8" stroke-linejoin="round" stroke-linecap="round"/>
<circle cx="639" cy="315.6" r="1.5" fill="#ff0000"/>
<path d="M476.5,519.8 L484.62,516.44 L491.24,513.09 L497.47,509.73 L503.33,506.38 L508.85,503.02 L514.06,499.66 L519,496.31 L523.69,492.95 L528.16,489.6 L532.44,486.24 L536.53,482.88 L540.44,479.53 L544.2,476.17 L547.81,472.82 L551.29,469.46 L554.65,466.11 L557.91,462.75 L561.07,459.39 L564.16,456.04 L567.18,452.68 L570.14,449.33 L573.04,445.97 L575.88,442.61 L578.66,439.26 L581.37,435.9 L584.01,432.55 L586.59,429.19 L589.09,425.83 L591.53,422.48 L593.89,419.12 L596.19,415.77 L598.4,412.41 L600.54,409.05 L602.61,405.7 L604.59,402.34 L606.5,398.99 L608.32,395.63 L610.07,392.27 L611.72,388.92 L613.3,385.56 L614.79,382.21 L616.22,378.85 L617.58,375.49 L618.89,372.14 L620.15,368.78 L621.38,365.43 L622.57,362.07 L623.75,358.72 L624.91,355.36 L626.06,352 L627.22,348.65 L628.39,345.29 L629.58,341.94 L630.79,338.58 L632.04,335.22 L633.33,331.87 L634.68,328.51 L636.08,325.16 L637.6,321.8" fill="none" stroke="#000" stroke-width="1.6" stroke-linejoin="round" />
<path d="M386,519.8 L389.19,517.91 L392.39,516.5 L395.58,514.8 L398.77,512.7 L401.97,510.13 L405.16,506.97 L408.36,503.14 L411.55,498.64 L414.74,493.59 L417.94,488.15 L421.13,482.47 L424.32,476.68 L427.52,470.93 L430.71,465.34 L433.91,459.92 L437.1,454.68 L440.29,449.61 L443.49,444.7 L446.68,439.96 L449.87,435.37 L453.07,430.94 L456.26,426.66 L459.45,422.53 L462.65,418.55 L465.84,414.7 L469.04,411 L472.23,407.43 L475.42,404 L478.62,400.69 L481.81,397.51 L485,394.45 L488.2,391.51 L491.39,388.68 L494.58,385.96 L497.78,383.35 L500.97,380.85 L504.17,378.45 L507.36,376.14 L510.55,373.92 L513.75,371.8 L516.94,369.76 L520.13,367.81 L523.33,365.93 L526.52,364.13 L529.72,362.41 L532.91,360.75 L536.1,359.15 L539.3,357.62 L542.49,356.15 L545.68,354.73 L548.88,353.36 L552.07,352.04 L555.26,350.77 L558.46,349.53 L561.65,348.33 L564.85,347.17 L568.04,346.03 L571.23,344.92 L574.43,343.84 L577.62,342.77 L580.81,341.72 L584.01,340.68 L587.2,339.65 L590.39,338.63 L593.59,337.61 L596.78,336.58 L599.98,335.55 L603.17,334.51 L606.36,333.46 L609.56,332.39 L612.75,331.31 L615.94,330.2 L619.14,329.06 L622.33,327.9 L625.53,326.7 L628.72,325.46 L631.91,324.18 L635.11,322.86 L638.3,321.8" fill="none" stroke="#000" stroke-width="1.6" stroke-linejoin="round" />
<rect x="386" y="281.8" width="296.2" height="238" fill="none" stroke="#000" stroke-width="1.6"/>
<line x1="386" y1="519.8" x2="386" y2="515.3" stroke="#000" stroke-width="1.3" />
<line x1="428.31" y1="519.8" x2="428.31" y2="517.3" stroke="#000" stroke-width="1.3" />
<line x1="470.63" y1="519.8" x2="470.63" y2="515.3" stroke="#000" stroke-width="1.3" />
<line x1="512.94" y1="519.8" x2="512.94" y2="517.3" stroke="#000" stroke-width="1.3" />
<line x1="555.26" y1="519.8" x2="555.26" y2="515.3" stroke="#000" stroke-width="1.3" />
<line x1="597.57" y1="519.8" x2="597.57" y2="517.3" stroke="#000" stroke-width="1.3" />
<line x1="639.89" y1="519.8" x2="639.89" y2="515.3" stroke="#000" stroke-width="1.3" />
<line x1="386" y1="519.8" x2="390.5" y2="519.8" stroke="#000" stroke-width="1.3" />
<line x1="386" y1="493.36" x2="388.5" y2="493.36" stroke="#000" stroke-width="1.3" />
<line x1="386" y1="466.91" x2="390.5" y2="466.91" stroke="#000" stroke-width="1.3" />
<line x1="386" y1="440.47" x2="388.5" y2="440.47" stroke="#000" stroke-width="1.3" />
<line x1="386" y1="414.02" x2="390.5" y2="414.02" stroke="#000" stroke-width="1.3" />
<line x1="386" y1="387.58" x2="388.5" y2="387.58" stroke="#000" stroke-width="1.3" />
<line x1="386" y1="361.13" x2="390.5" y2="361.13" stroke="#000" stroke-width="1.3" />
<line x1="386" y1="334.69" x2="388.5" y2="334.69" stroke="#000" stroke-width="1.3" />
<line x1="386" y1="308.24" x2="390.5" y2="308.24" stroke="#000" stroke-width="1.3" />
<text x="382.5" y="536.31" font-size="14" fill="#000">0</text>
<text x="467.14" y="536.27" font-size="14" fill="#000">2</text>
<text x="551.79" y="536.21" font-size="14" fill="#000">4</text>
<text x="636.35" y="536.27" font-size="14" fill="#000">6</text>
<text x="374.13" y="524.43" font-size="14" fill="#000">0</text>
<text x="373.86" y="471.55" font-size="14" fill="#000">4</text>
<text x="374.06" y="418.66" font-size="14" fill="#000">8</text>
<text x="367.2" y="365.77" font-size="14" fill="#000">12</text>
<text x="367.01" y="312.88" font-size="14" fill="#000">16</text>
<text x="445.58" y="554.2" font-size="14.65" fill="#000">Compressive strain (%)</text>
<text transform="translate(359.8,482.42) rotate(-90)" x="0" y="0" font-size="14.65">Compressive stress (MPa)</text>
<text x="352.08" y="293.57" font-size="21" fill="#000">(d)</text>
<text x="395.65" y="302.8" font-size="14.3" fill="#000">D-shell</text>
<line x1="395.3" y1="316" x2="449" y2="316" stroke="#000" stroke-width="1.6" />
<path d="M449,313.1 L459,316 L449,318.9 Z" fill="#000"/>
<text x="396.53" y="331.5" font-size="14.55" fill="#000">10 Cycles</text>
<text x="428.55" y="374.6" font-size="14.4" fill="#000">1</text>
<text x="436" y="369.05" font-size="9.9" fill="#000">st</text>
<text x="446.9" y="374.6" font-size="14.4" fill="#000">Cycle</text>
<line x1="466" y1="379" x2="482.8" y2="395.9" stroke="#000" stroke-width="1.3" />
<text x="583.05" y="491.7" font-size="14.4" fill="#000">10</text>
<text x="597" y="485.05" font-size="9.9" fill="#000">st</text>
<text x="608.6" y="491.7" font-size="14.4" fill="#000">Cycle</text>
<line x1="577.6" y1="483.1" x2="559.4" y2="465.8" stroke="#000" stroke-width="1.3" />
<path d="M56.89,710.5 L84.48,688 L112.07,680.5 L139.66,676.4 L167.25,674.5 L194.84,671.3 L222.43,669.4 L250.03,668 L277.61,666.4 L305.2,665" fill="none" stroke="#000" stroke-width="1.6" stroke-dasharray="0.01 3.1" stroke-linejoin="round" stroke-linecap="round"/>
<rect x="54.39" y="708" width="5" height="5" fill="#000"/>
<rect x="81.98" y="685.5" width="5" height="5" fill="#000"/>
<rect x="109.57" y="678" width="5" height="5" fill="#000"/>
<rect x="137.16" y="673.9" width="5" height="5" fill="#000"/>
<rect x="164.75" y="672" width="5" height="5" fill="#000"/>
<rect x="192.34" y="668.8" width="5" height="5" fill="#000"/>
<rect x="219.93" y="666.9" width="5" height="5" fill="#000"/>
<rect x="247.53" y="665.5" width="5" height="5" fill="#000"/>
<rect x="275.11" y="663.9" width="5" height="5" fill="#000"/>
<rect x="302.7" y="662.5" width="5" height="5" fill="#000"/>
<path d="M56.89,691 L84.48,669 L112.07,658 L139.66,653.5 L167.25,651.1 L194.84,648.9 L222.43,647 L250.03,645.8 L277.61,644.7 L305.2,643.7" fill="none" stroke="#ff0000" stroke-width="1.6" stroke-dasharray="0.01 3.1" stroke-linejoin="round" stroke-linecap="round"/>
<circle cx="56.89" cy="691" r="2.9" fill="#ff0000"/>
<circle cx="84.48" cy="669" r="2.9" fill="#ff0000"/>
<circle cx="112.07" cy="658" r="2.9" fill="#ff0000"/>
<circle cx="139.66" cy="653.5" r="2.9" fill="#ff0000"/>
<circle cx="167.25" cy="651.1" r="2.9" fill="#ff0000"/>
<circle cx="194.84" cy="648.9" r="2.9" fill="#ff0000"/>
<circle cx="222.43" cy="647" r="2.9" fill="#ff0000"/>
<circle cx="250.03" cy="645.8" r="2.9" fill="#ff0000"/>
<circle cx="277.61" cy="644.7" r="2.9" fill="#ff0000"/>
<circle cx="305.2" cy="643.7" r="2.9" fill="#ff0000"/>
<path d="M56.89,711.5 L84.48,689 L112.07,680.2 L139.66,675.2 L167.25,672.2 L194.84,670.6 L222.43,668.5 L250.03,667.3 L277.61,665.7 L305.2,664.5" fill="none" stroke="#0000ff" stroke-width="1.6" stroke-dasharray="0.01 3.1" stroke-linejoin="round" stroke-linecap="round"/>
<path d="M56.89,708.4 L60.19,714.3 L53.59,714.3 Z" fill="#0000ff"/>
<path d="M84.48,685.9 L87.78,691.8 L81.19,691.8 Z" fill="#0000ff"/>
<path d="M112.07,677.1 L115.37,683 L108.77,683 Z" fill="#0000ff"/>
<path d="M139.66,672.1 L142.97,678 L136.36,678 Z" fill="#0000ff"/>
<path d="M167.25,669.1 L170.56,675 L163.95,675 Z" fill="#0000ff"/>
<path d="M194.84,667.5 L198.14,673.4 L191.54,673.4 Z" fill="#0000ff"/>
<path d="M222.43,665.4 L225.73,671.3 L219.13,671.3 Z" fill="#0000ff"/>
<path d="M250.03,664.2 L253.33,670.1 L246.72,670.1 Z" fill="#0000ff"/>
<path d="M277.61,662.6 L280.91,668.5 L274.31,668.5 Z" fill="#0000ff"/>
<path d="M305.2,661.4 L308.5,667.3 L301.9,667.3 Z" fill="#0000ff"/>
<path d="M56.89,777 L84.48,748.3 L112.07,733 L139.66,726.2 L167.25,720.6 L194.84,716.6 L222.43,713.3 L250.03,711.2 L277.61,709.6 L305.2,708.9" fill="none" stroke="#ff00ff" stroke-width="1.6" stroke-dasharray="0.01 3.1" stroke-linejoin="round" stroke-linecap="round"/>
<path d="M56.89,780.1 L60.19,774.2 L53.59,774.2 Z" fill="#ff00ff"/>
<path d="M84.48,751.4 L87.78,745.5 L81.19,745.5 Z" fill="#ff00ff"/>
<path d="M112.07,736.1 L115.37,730.2 L108.77,730.2 Z" fill="#ff00ff"/>
<path d="M139.66,729.3 L142.97,723.4 L136.36,723.4 Z" fill="#ff00ff"/>
<path d="M167.25,723.7 L170.56,717.8 L163.95,717.8 Z" fill="#ff00ff"/>
<path d="M194.84,719.7 L198.14,713.8 L191.54,713.8 Z" fill="#ff00ff"/>
<path d="M222.43,716.4 L225.73,710.5 L219.13,710.5 Z" fill="#ff00ff"/>
<path d="M250.03,714.3 L253.33,708.4 L246.72,708.4 Z" fill="#ff00ff"/>
<path d="M277.61,712.7 L280.91,706.8 L274.31,706.8 Z" fill="#ff00ff"/>
<path d="M305.2,712 L308.5,706.1 L301.9,706.1 Z" fill="#ff00ff"/>
<path d="M56.89,710.5 L84.48,728.9 L112.07,739.5 L139.66,745.5 L167.25,748.3 L194.84,753.1 L222.43,756.1 L250.03,758.2 L277.61,760.5 L305.2,761.9" fill="none" stroke="#000" stroke-width="1.6" stroke-linejoin="round" />
<rect x="54.39" y="708" width="5" height="5" fill="#000"/>
<rect x="81.98" y="726.4" width="5" height="5" fill="#000"/>
<rect x="109.57" y="737" width="5" height="5" fill="#000"/>
<rect x="137.16" y="743" width="5" height="5" fill="#000"/>
<rect x="164.75" y="745.8" width="5" height="5" fill="#000"/>
<rect x="192.34" y="750.6" width="5" height="5" fill="#000"/>
<rect x="219.93" y="753.6" width="5" height="5" fill="#000"/>
<rect x="247.53" y="755.7" width="5" height="5" fill="#000"/>
<rect x="275.11" y="758" width="5" height="5" fill="#000"/>
<rect x="302.7" y="759.4" width="5" height="5" fill="#000"/>
<path d="M56.89,697.4 L84.48,728.9 L112.07,744.8 L139.66,751.4 L167.25,754.5 L194.84,757.5 L222.43,760.1 L250.03,761.7 L277.61,763.8 L305.2,765.2" fill="none" stroke="#ff0000" stroke-width="1.6" stroke-linejoin="round" />
<circle cx="56.89" cy="697.4" r="2.9" fill="#ff0000"/>
<circle cx="84.48" cy="728.9" r="2.9" fill="#ff0000"/>
<circle cx="112.07" cy="744.8" r="2.9" fill="#ff0000"/>
<circle cx="139.66" cy="751.4" r="2.9" fill="#ff0000"/>
<circle cx="167.25" cy="754.5" r="2.9" fill="#ff0000"/>
<circle cx="194.84" cy="757.5" r="2.9" fill="#ff0000"/>
<circle cx="222.43" cy="760.1" r="2.9" fill="#ff0000"/>
<circle cx="250.03" cy="761.7" r="2.9" fill="#ff0000"/>
<circle cx="277.61" cy="763.8" r="2.9" fill="#ff0000"/>
<circle cx="305.2" cy="765.2" r="2.9" fill="#ff0000"/>
<path d="M56.89,715.2 L84.48,746.3 L112.07,759.6 L139.66,766.7 L167.25,771.4 L194.84,773.6 L222.43,776 L250.03,778.5 L277.61,780.6 L305.2,781.6" fill="none" stroke="#0000ff" stroke-width="1.6" stroke-linejoin="round" />
<path d="M56.89,712.1 L60.19,718 L53.59,718 Z" fill="#0000ff"/>
<path d="M84.48,743.2 L87.78,749.1 L81.19,749.1 Z" fill="#0000ff"/>
<path d="M112.07,756.5 L115.37,762.4 L108.77,762.4 Z" fill="#0000ff"/>
<path d="M139.66,763.6 L142.97,769.5 L136.36,769.5 Z" fill="#0000ff"/>
<path d="M167.25,768.3 L170.56,774.2 L163.95,774.2 Z" fill="#0000ff"/>
<path d="M194.84,770.5 L198.14,776.4 L191.54,776.4 Z" fill="#0000ff"/>
<path d="M222.43,772.9 L225.73,778.8 L219.13,778.8 Z" fill="#0000ff"/>
<path d="M250.03,775.4 L253.33,781.3 L246.72,781.3 Z" fill="#0000ff"/>
<path d="M277.61,777.5 L280.91,783.4 L274.31,783.4 Z" fill="#0000ff"/>
<path d="M305.2,778.5 L308.5,784.4 L301.9,784.4 Z" fill="#0000ff"/>
<path d="M56.89,637.3 L84.48,677 L112.07,699.9 L139.66,710.1 L167.25,716.2 L194.84,722.9 L222.43,728.1 L250.03,731.1 L277.61,733 L305.2,734.6" fill="none" stroke="#ff00ff" stroke-width="1.6" stroke-linejoin="round" />
<path d="M56.89,640.4 L60.19,634.5 L53.59,634.5 Z" fill="#ff00ff"/>
<path d="M84.48,680.1 L87.78,674.2 L81.19,674.2 Z" fill="#ff00ff"/>
<path d="M112.07,703 L115.37,697.1 L108.77,697.1 Z" fill="#ff00ff"/>
<path d="M139.66,713.2 L142.97,707.3 L136.36,707.3 Z" fill="#ff00ff"/>
<path d="M167.25,719.3 L170.56,713.4 L163.95,713.4 Z" fill="#ff00ff"/>
<path d="M194.84,726 L198.14,720.1 L191.54,720.1 Z" fill="#ff00ff"/>
<path d="M222.43,731.2 L225.73,725.3 L219.13,725.3 Z" fill="#ff00ff"/>
<path d="M250.03,734.2 L253.33,728.3 L246.72,728.3 Z" fill="#ff00ff"/>
<path d="M277.61,736.1 L280.91,730.2 L274.31,730.2 Z" fill="#ff00ff"/>
<path d="M305.2,737.7 L308.5,731.8 L301.9,731.8 Z" fill="#ff00ff"/>
<rect x="43.1" y="572" width="275.9" height="221.3" fill="none" stroke="#000" stroke-width="1.6"/>
<line x1="56.89" y1="793.3" x2="56.89" y2="789.1" stroke="#000" stroke-width="1.3" />
<line x1="84.48" y1="793.3" x2="84.48" y2="789.1" stroke="#000" stroke-width="1.3" />
<line x1="112.07" y1="793.3" x2="112.07" y2="789.1" stroke="#000" stroke-width="1.3" />
<line x1="139.66" y1="793.3" x2="139.66" y2="789.1" stroke="#000" stroke-width="1.3" />
<line x1="167.25" y1="793.3" x2="167.25" y2="789.1" stroke="#000" stroke-width="1.3" />
<line x1="194.84" y1="793.3" x2="194.84" y2="789.1" stroke="#000" stroke-width="1.3" />
<line x1="222.43" y1="793.3" x2="222.43" y2="789.1" stroke="#000" stroke-width="1.3" />
<line x1="250.03" y1="793.3" x2="250.03" y2="789.1" stroke="#000" stroke-width="1.3" />
<line x1="277.61" y1="793.3" x2="277.61" y2="789.1" stroke="#000" stroke-width="1.3" />
<line x1="305.2" y1="793.3" x2="305.2" y2="789.1" stroke="#000" stroke-width="1.3" />
<line x1="43.1" y1="793.3" x2="47.6" y2="793.3" stroke="#000" stroke-width="1.3" />
<line x1="43.1" y1="772.22" x2="45.6" y2="772.22" stroke="#000" stroke-width="1.3" />
<line x1="43.1" y1="751.15" x2="47.6" y2="751.15" stroke="#000" stroke-width="1.3" />
<line x1="43.1" y1="730.07" x2="45.6" y2="730.07" stroke="#000" stroke-width="1.3" />
<line x1="43.1" y1="709" x2="47.6" y2="709" stroke="#000" stroke-width="1.3" />
<line x1="43.1" y1="687.92" x2="45.6" y2="687.92" stroke="#000" stroke-width="1.3" />
<line x1="43.1" y1="666.84" x2="47.6" y2="666.84" stroke="#000" stroke-width="1.3" />
<line x1="43.1" y1="645.77" x2="45.6" y2="645.77" stroke="#000" stroke-width="1.3" />
<line x1="43.1" y1="624.69" x2="47.6" y2="624.69" stroke="#000" stroke-width="1.3" />
<line x1="43.1" y1="603.61" x2="45.6" y2="603.61" stroke="#000" stroke-width="1.3" />
<line x1="43.1" y1="582.54" x2="47.6" y2="582.54" stroke="#000" stroke-width="1.3" />
<line x1="319" y1="793.3" x2="314.5" y2="793.3" stroke="#000" stroke-width="1.3" />
<line x1="319" y1="774.86" x2="316.5" y2="774.86" stroke="#000" stroke-width="1.3" />
<line x1="319" y1="756.42" x2="314.5" y2="756.42" stroke="#000" stroke-width="1.3" />
<line x1="319" y1="737.97" x2="316.5" y2="737.97" stroke="#000" stroke-width="1.3" />
<line x1="319" y1="719.53" x2="314.5" y2="719.53" stroke="#000" stroke-width="1.3" />
<line x1="319" y1="701.09" x2="316.5" y2="701.09" stroke="#000" stroke-width="1.3" />
<line x1="319" y1="682.65" x2="314.5" y2="682.65" stroke="#000" stroke-width="1.3" />
<line x1="319" y1="664.21" x2="316.5" y2="664.21" stroke="#000" stroke-width="1.3" />
<line x1="319" y1="645.77" x2="314.5" y2="645.77" stroke="#000" stroke-width="1.3" />
<line x1="319" y1="627.33" x2="316.5" y2="627.33" stroke="#000" stroke-width="1.3" />
<line x1="319" y1="608.88" x2="314.5" y2="608.88" stroke="#000" stroke-width="1.3" />
<line x1="319" y1="590.44" x2="316.5" y2="590.44" stroke="#000" stroke-width="1.3" />
<line x1="319" y1="572" x2="314.5" y2="572" stroke="#000" stroke-width="1.3" />
<text x="53.14" y="808.67" font-size="14.2" fill="#000">1</text>
<text x="80.94" y="808.7" font-size="14.2" fill="#000">2</text>
<text x="108.5" y="808.7" font-size="14.2" fill="#000">3</text>
<text x="136.15" y="808.65" font-size="14.2" fill="#000">4</text>
<text x="163.68" y="808.6" font-size="14.2" fill="#000">5</text>
<text x="191.26" y="808.7" font-size="14.2" fill="#000">6</text>
<text x="218.65" y="808.6" font-size="14.2" fill="#000">7</text>
<text x="246.47" y="808.74" font-size="14.2" fill="#000">8</text>
<text x="274.13" y="808.7" font-size="14.2" fill="#000">9</text>
<text x="297.81" y="808.74" font-size="14.2" fill="#000">10</text>
<text x="20.51" y="798" font-size="14.2" fill="#000">0.4</text>
<text x="20.72" y="755.85" font-size="14.2" fill="#000">0.8</text>
<text x="20.86" y="713.7" font-size="14.2" fill="#000">1.2</text>
<text x="20.67" y="671.54" font-size="14.2" fill="#000">1.6</text>
<text x="20.79" y="629.39" font-size="14.2" fill="#000">2.0</text>
<text x="20.51" y="587.24" font-size="14.2" fill="#000">2.4</text>
<text x="323.6" y="798" font-size="14.2" fill="#000">2.0</text>
<text x="323.6" y="761.12" font-size="14.2" fill="#000">2.5</text>
<text x="323.67" y="724.23" font-size="14.2" fill="#000">3.0</text>
<text x="323.67" y="687.35" font-size="14.2" fill="#000">3.5</text>
<text x="324.01" y="650.47" font-size="14.2" fill="#000">4.0</text>
<text x="324.01" y="613.58" font-size="14.2" fill="#000">4.5</text>
<text x="323.63" y="576.7" font-size="14.2" fill="#000">5.0</text>
<text x="135.64" y="825" font-size="13.6" fill="#000">Cycle number</text>
<text transform="translate(15.9,718.62) rotate(-90)" x="0" y="0" font-size="13.5">SE strain (%)</text>
<text transform="translate(354.7,740.13) rotate(-90)" x="0" y="0" font-size="13.5">Residual strain (%)</text>
<text x="0.28" y="575.97" font-size="21" fill="#000">(e)</text>
<line x1="50.2" y1="579.7" x2="82" y2="579.7" stroke="#000" stroke-width="1.6" />
<rect x="63.8" y="577.2" width="5" height="5" fill="#000"/>
<text x="84.64" y="584.6" font-size="13.5" fill="#000">G-solid</text>
<line x1="50.2" y1="596.8" x2="82" y2="596.8" stroke="#ff0000" stroke-width="1.6" />
<circle cx="66.3" cy="596.8" r="2.9" fill="#ff0000"/>
<text x="84.64" y="601.7" font-size="13.5" fill="#000">G-shell</text>
<line x1="50.2" y1="613.9" x2="82" y2="613.9" stroke="#0000ff" stroke-width="1.6" />
<path d="M66.3,610.8 L69.6,616.7 L63,616.7 Z" fill="#0000ff"/>
<text x="85.06" y="618.8" font-size="13.5" fill="#000">D-solid</text>
<line x1="50.2" y1="631" x2="82" y2="631" stroke="#ff00ff" stroke-width="1.6" />
<path d="M66.3,634.1 L69.6,628.2 L63,628.2 Z" fill="#ff00ff"/>
<text x="85.06" y="635.9" font-size="13.5" fill="#000">D-shell</text>
<line x1="234.6" y1="581.9" x2="263.8" y2="581.9" stroke="#000" stroke-width="1.6" stroke-dasharray="0.01 3.1" stroke-linecap="round"/>
<rect x="248.2" y="579.4" width="5" height="5" fill="#000"/>
<text x="269.74" y="586.8" font-size="13.5" fill="#000">G-solid</text>
<line x1="234.6" y1="598.8" x2="263.8" y2="598.8" stroke="#ff0000" stroke-width="1.6" stroke-dasharray="0.01 3.1" stroke-linecap="round"/>
<circle cx="250.7" cy="598.8" r="2.9" fill="#ff0000"/>
<text x="269.74" y="603.7" font-size="13.5" fill="#000">G-shell</text>
<line x1="234.6" y1="615.7" x2="263.8" y2="615.7" stroke="#0000ff" stroke-width="1.6" stroke-dasharray="0.01 3.1" stroke-linecap="round"/>
<path d="M250.7,612.6 L254,618.5 L247.4,618.5 Z" fill="#0000ff"/>
<text x="270.16" y="620.6" font-size="13.5" fill="#000">D-solid</text>
<line x1="234.6" y1="632.6" x2="263.8" y2="632.6" stroke="#ff00ff" stroke-width="1.6" stroke-dasharray="0.01 3.1" stroke-linecap="round"/>
<path d="M250.7,635.7 L254,629.8 L247.4,629.8 Z" fill="#ff00ff"/>
<text x="270.16" y="637.5" font-size="13.5" fill="#000">D-shell</text>
<path d="M416.36,675.8 L444.47,716.4 L472.57,729.5 L500.69,737.3 L528.79,740.8 L556.9,746.4 L585.01,750.6 L613.12,753.1 L641.24,756.7 L669.35,758.4" fill="none" stroke="#000" stroke-width="1.6" stroke-linejoin="round" />
<rect x="413.86" y="673.3" width="5" height="5" fill="#000"/>
<rect x="441.97" y="713.9" width="5" height="5" fill="#000"/>
<rect x="470.07" y="727" width="5" height="5" fill="#000"/>
<rect x="498.19" y="734.8" width="5" height="5" fill="#000"/>
<rect x="526.29" y="738.3" width="5" height="5" fill="#000"/>
<rect x="554.4" y="743.9" width="5" height="5" fill="#000"/>
<rect x="582.51" y="748.1" width="5" height="5" fill="#000"/>
<rect x="610.62" y="750.6" width="5" height="5" fill="#000"/>
<rect x="638.74" y="754.2" width="5" height="5" fill="#000"/>
<rect x="666.85" y="755.9" width="5" height="5" fill="#000"/>
<path d="M416.36,685.3 L444.47,723.5 L472.57,742.5 L500.69,750.3 L528.79,754.1 L556.9,758 L585.01,761.6 L613.12,763.3 L641.24,765.8 L669.35,767.3" fill="none" stroke="#ff0000" stroke-width="1.6" stroke-linejoin="round" />
<circle cx="416.36" cy="685.3" r="2.9" fill="#ff0000"/>
<circle cx="444.47" cy="723.5" r="2.9" fill="#ff0000"/>
<circle cx="472.57" cy="742.5" r="2.9" fill="#ff0000"/>
<circle cx="500.69" cy="750.3" r="2.9" fill="#ff0000"/>
<circle cx="528.79" cy="754.1" r="2.9" fill="#ff0000"/>
<circle cx="556.9" cy="758" r="2.9" fill="#ff0000"/>
<circle cx="585.01" cy="761.6" r="2.9" fill="#ff0000"/>
<circle cx="613.12" cy="763.3" r="2.9" fill="#ff0000"/>
<circle cx="641.24" cy="765.8" r="2.9" fill="#ff0000"/>
<circle cx="669.35" cy="767.3" r="2.9" fill="#ff0000"/>
<path d="M416.36,690.7 L444.47,733.3 L472.57,750.9 L500.69,760.4 L528.79,766.6 L556.9,769.7 L585.01,773.3 L613.12,776 L641.24,779 L669.35,780.7" fill="none" stroke="#0000ff" stroke-width="1.6" stroke-linejoin="round" />
<path d="M416.36,687.6 L419.66,693.5 L413.06,693.5 Z" fill="#0000ff"/>
<path d="M444.47,730.2 L447.77,736.1 L441.17,736.1 Z" fill="#0000ff"/>
<path d="M472.57,747.8 L475.88,753.7 L469.27,753.7 Z" fill="#0000ff"/>
<path d="M500.69,757.3 L503.99,763.2 L497.38,763.2 Z" fill="#0000ff"/>
<path d="M528.79,763.5 L532.09,769.4 L525.5,769.4 Z" fill="#0000ff"/>
<path d="M556.9,766.6 L560.2,772.5 L553.61,772.5 Z" fill="#0000ff"/>
<path d="M585.01,770.2 L588.31,776.1 L581.72,776.1 Z" fill="#0000ff"/>
<path d="M613.12,772.9 L616.42,778.8 L609.83,778.8 Z" fill="#0000ff"/>
<path d="M641.24,775.9 L644.53,781.8 L637.94,781.8 Z" fill="#0000ff"/>
<path d="M669.35,777.6 L672.64,783.5 L666.05,783.5 Z" fill="#0000ff"/>
<path d="M416.36,578.1 L444.47,633.7 L472.57,664.9 L500.69,678.5 L528.79,688.5 L556.9,697 L585.01,703.4 L613.12,708.1 L641.24,710.8 L669.35,712.9" fill="none" stroke="#ff00ff" stroke-width="1.6" stroke-linejoin="round" />
<path d="M416.36,581.2 L419.66,575.3 L413.06,575.3 Z" fill="#ff00ff"/>
<path d="M444.47,636.8 L447.77,630.9 L441.17,630.9 Z" fill="#ff00ff"/>
<path d="M472.57,668 L475.88,662.1 L469.27,662.1 Z" fill="#ff00ff"/>
<path d="M500.69,681.6 L503.99,675.7 L497.38,675.7 Z" fill="#ff00ff"/>
<path d="M528.79,691.6 L532.09,685.7 L525.5,685.7 Z" fill="#ff00ff"/>
<path d="M556.9,700.1 L560.2,694.2 L553.61,694.2 Z" fill="#ff00ff"/>
<path d="M585.01,706.5 L588.31,700.6 L581.72,700.6 Z" fill="#ff00ff"/>
<path d="M613.12,711.2 L616.42,705.3 L609.83,705.3 Z" fill="#ff00ff"/>
<path d="M641.24,713.9 L644.53,708 L637.94,708 Z" fill="#ff00ff"/>
<path d="M669.35,716 L672.64,710.1 L666.05,710.1 Z" fill="#ff00ff"/>
<rect x="402.3" y="565.5" width="281.1" height="227.3" fill="none" stroke="#000" stroke-width="1.6"/>
<line x1="416.36" y1="792.8" x2="416.36" y2="788.6" stroke="#000" stroke-width="1.3" />
<line x1="444.47" y1="792.8" x2="444.47" y2="788.6" stroke="#000" stroke-width="1.3" />
<line x1="472.57" y1="792.8" x2="472.57" y2="788.6" stroke="#000" stroke-width="1.3" />
<line x1="500.69" y1="792.8" x2="500.69" y2="788.6" stroke="#000" stroke-width="1.3" />
<line x1="528.79" y1="792.8" x2="528.79" y2="788.6" stroke="#000" stroke-width="1.3" />
<line x1="556.9" y1="792.8" x2="556.9" y2="788.6" stroke="#000" stroke-width="1.3" />
<line x1="585.01" y1="792.8" x2="585.01" y2="788.6" stroke="#000" stroke-width="1.3" />
<line x1="613.12" y1="792.8" x2="613.12" y2="788.6" stroke="#000" stroke-width="1.3" />
<line x1="641.24" y1="792.8" x2="641.24" y2="788.6" stroke="#000" stroke-width="1.3" />
<line x1="669.35" y1="792.8" x2="669.35" y2="788.6" stroke="#000" stroke-width="1.3" />
<line x1="402.3" y1="792.8" x2="406.8" y2="792.8" stroke="#000" stroke-width="1.3" />
<line x1="402.3" y1="777.85" x2="404.8" y2="777.85" stroke="#000" stroke-width="1.3" />
<line x1="402.3" y1="762.89" x2="406.8" y2="762.89" stroke="#000" stroke-width="1.3" />
<line x1="402.3" y1="747.94" x2="404.8" y2="747.94" stroke="#000" stroke-width="1.3" />
<line x1="402.3" y1="732.98" x2="406.8" y2="732.98" stroke="#000" stroke-width="1.3" />
<line x1="402.3" y1="718.03" x2="404.8" y2="718.03" stroke="#000" stroke-width="1.3" />
<line x1="402.3" y1="703.08" x2="406.8" y2="703.08" stroke="#000" stroke-width="1.3" />
<line x1="402.3" y1="688.12" x2="404.8" y2="688.12" stroke="#000" stroke-width="1.3" />
<line x1="402.3" y1="673.17" x2="406.8" y2="673.17" stroke="#000" stroke-width="1.3" />
<line x1="402.3" y1="658.21" x2="404.8" y2="658.21" stroke="#000" stroke-width="1.3" />
<line x1="402.3" y1="643.26" x2="406.8" y2="643.26" stroke="#000" stroke-width="1.3" />
<line x1="402.3" y1="628.31" x2="404.8" y2="628.31" stroke="#000" stroke-width="1.3" />
<line x1="402.3" y1="613.35" x2="406.8" y2="613.35" stroke="#000" stroke-width="1.3" />
<line x1="402.3" y1="598.4" x2="404.8" y2="598.4" stroke="#000" stroke-width="1.3" />
<line x1="402.3" y1="583.44" x2="406.8" y2="583.44" stroke="#000" stroke-width="1.3" />
<line x1="402.3" y1="568.49" x2="404.8" y2="568.49" stroke="#000" stroke-width="1.3" />
<text x="412.6" y="808.67" font-size="14.2" fill="#000">1</text>
<text x="440.92" y="808.7" font-size="14.2" fill="#000">2</text>
<text x="469" y="808.7" font-size="14.2" fill="#000">3</text>
<text x="497.17" y="808.65" font-size="14.2" fill="#000">4</text>
<text x="525.22" y="808.6" font-size="14.2" fill="#000">5</text>
<text x="553.32" y="808.7" font-size="14.2" fill="#000">6</text>
<text x="581.23" y="808.6" font-size="14.2" fill="#000">7</text>
<text x="609.58" y="808.74" font-size="14.2" fill="#000">8</text>
<text x="637.75" y="808.7" font-size="14.2" fill="#000">9</text>
<text x="661.95" y="808.74" font-size="14.2" fill="#000">10</text>
<text x="383.14" y="797.5" font-size="14.2" fill="#000">10</text>
<text x="383.12" y="767.59" font-size="14.2" fill="#000">15</text>
<text x="383.14" y="737.68" font-size="14.2" fill="#000">20</text>
<text x="383.12" y="707.78" font-size="14.2" fill="#000">25</text>
<text x="383.14" y="677.87" font-size="14.2" fill="#000">30</text>
<text x="383.12" y="647.96" font-size="14.2" fill="#000">35</text>
<text x="383.14" y="618.05" font-size="14.2" fill="#000">40</text>
<text x="383.12" y="588.14" font-size="14.2" fill="#000">45</text>
<text x="496.62" y="824.9" font-size="13.9" fill="#000">Cycle number</text>
<text transform="translate(377.8,736.04) rotate(-90)" x="0" y="0" font-size="13.85">SE recovery rate (%)</text>
<text x="355.08" y="575.99" font-size="21" fill="#000">(f)</text>
<line x1="600.4" y1="578.2" x2="632.3" y2="578.2" stroke="#000" stroke-width="1.6" />
<rect x="614.1" y="575.7" width="5" height="5" fill="#000"/>
<text x="635.84" y="583" font-size="13.5" fill="#000">G-solid</text>
<line x1="600.4" y1="595.5" x2="632.3" y2="595.5" stroke="#ff0000" stroke-width="1.6" />
<circle cx="616.6" cy="595.5" r="2.9" fill="#ff0000"/>
<text x="635.84" y="600.3" font-size="13.5" fill="#000">G-shell</text>
<line x1="600.4" y1="612.8" x2="632.3" y2="612.8" stroke="#0000ff" stroke-width="1.6" />
<path d="M616.6,609.7 L619.9,615.6 L613.3,615.6 Z" fill="#0000ff"/>
<text x="636.26" y="617.6" font-size="13.5" fill="#000">D-solid</text>
<line x1="600.4" y1="630.1" x2="632.3" y2="630.1" stroke="#ff00ff" stroke-width="1.6" />
<path d="M616.6,633.2 L619.9,627.3 L613.3,627.3 Z" fill="#ff00ff"/>
<text x="636.26" y="634.9" font-size="13.5" fill="#000">D-shell</text>
</g></svg>
</body></html>
